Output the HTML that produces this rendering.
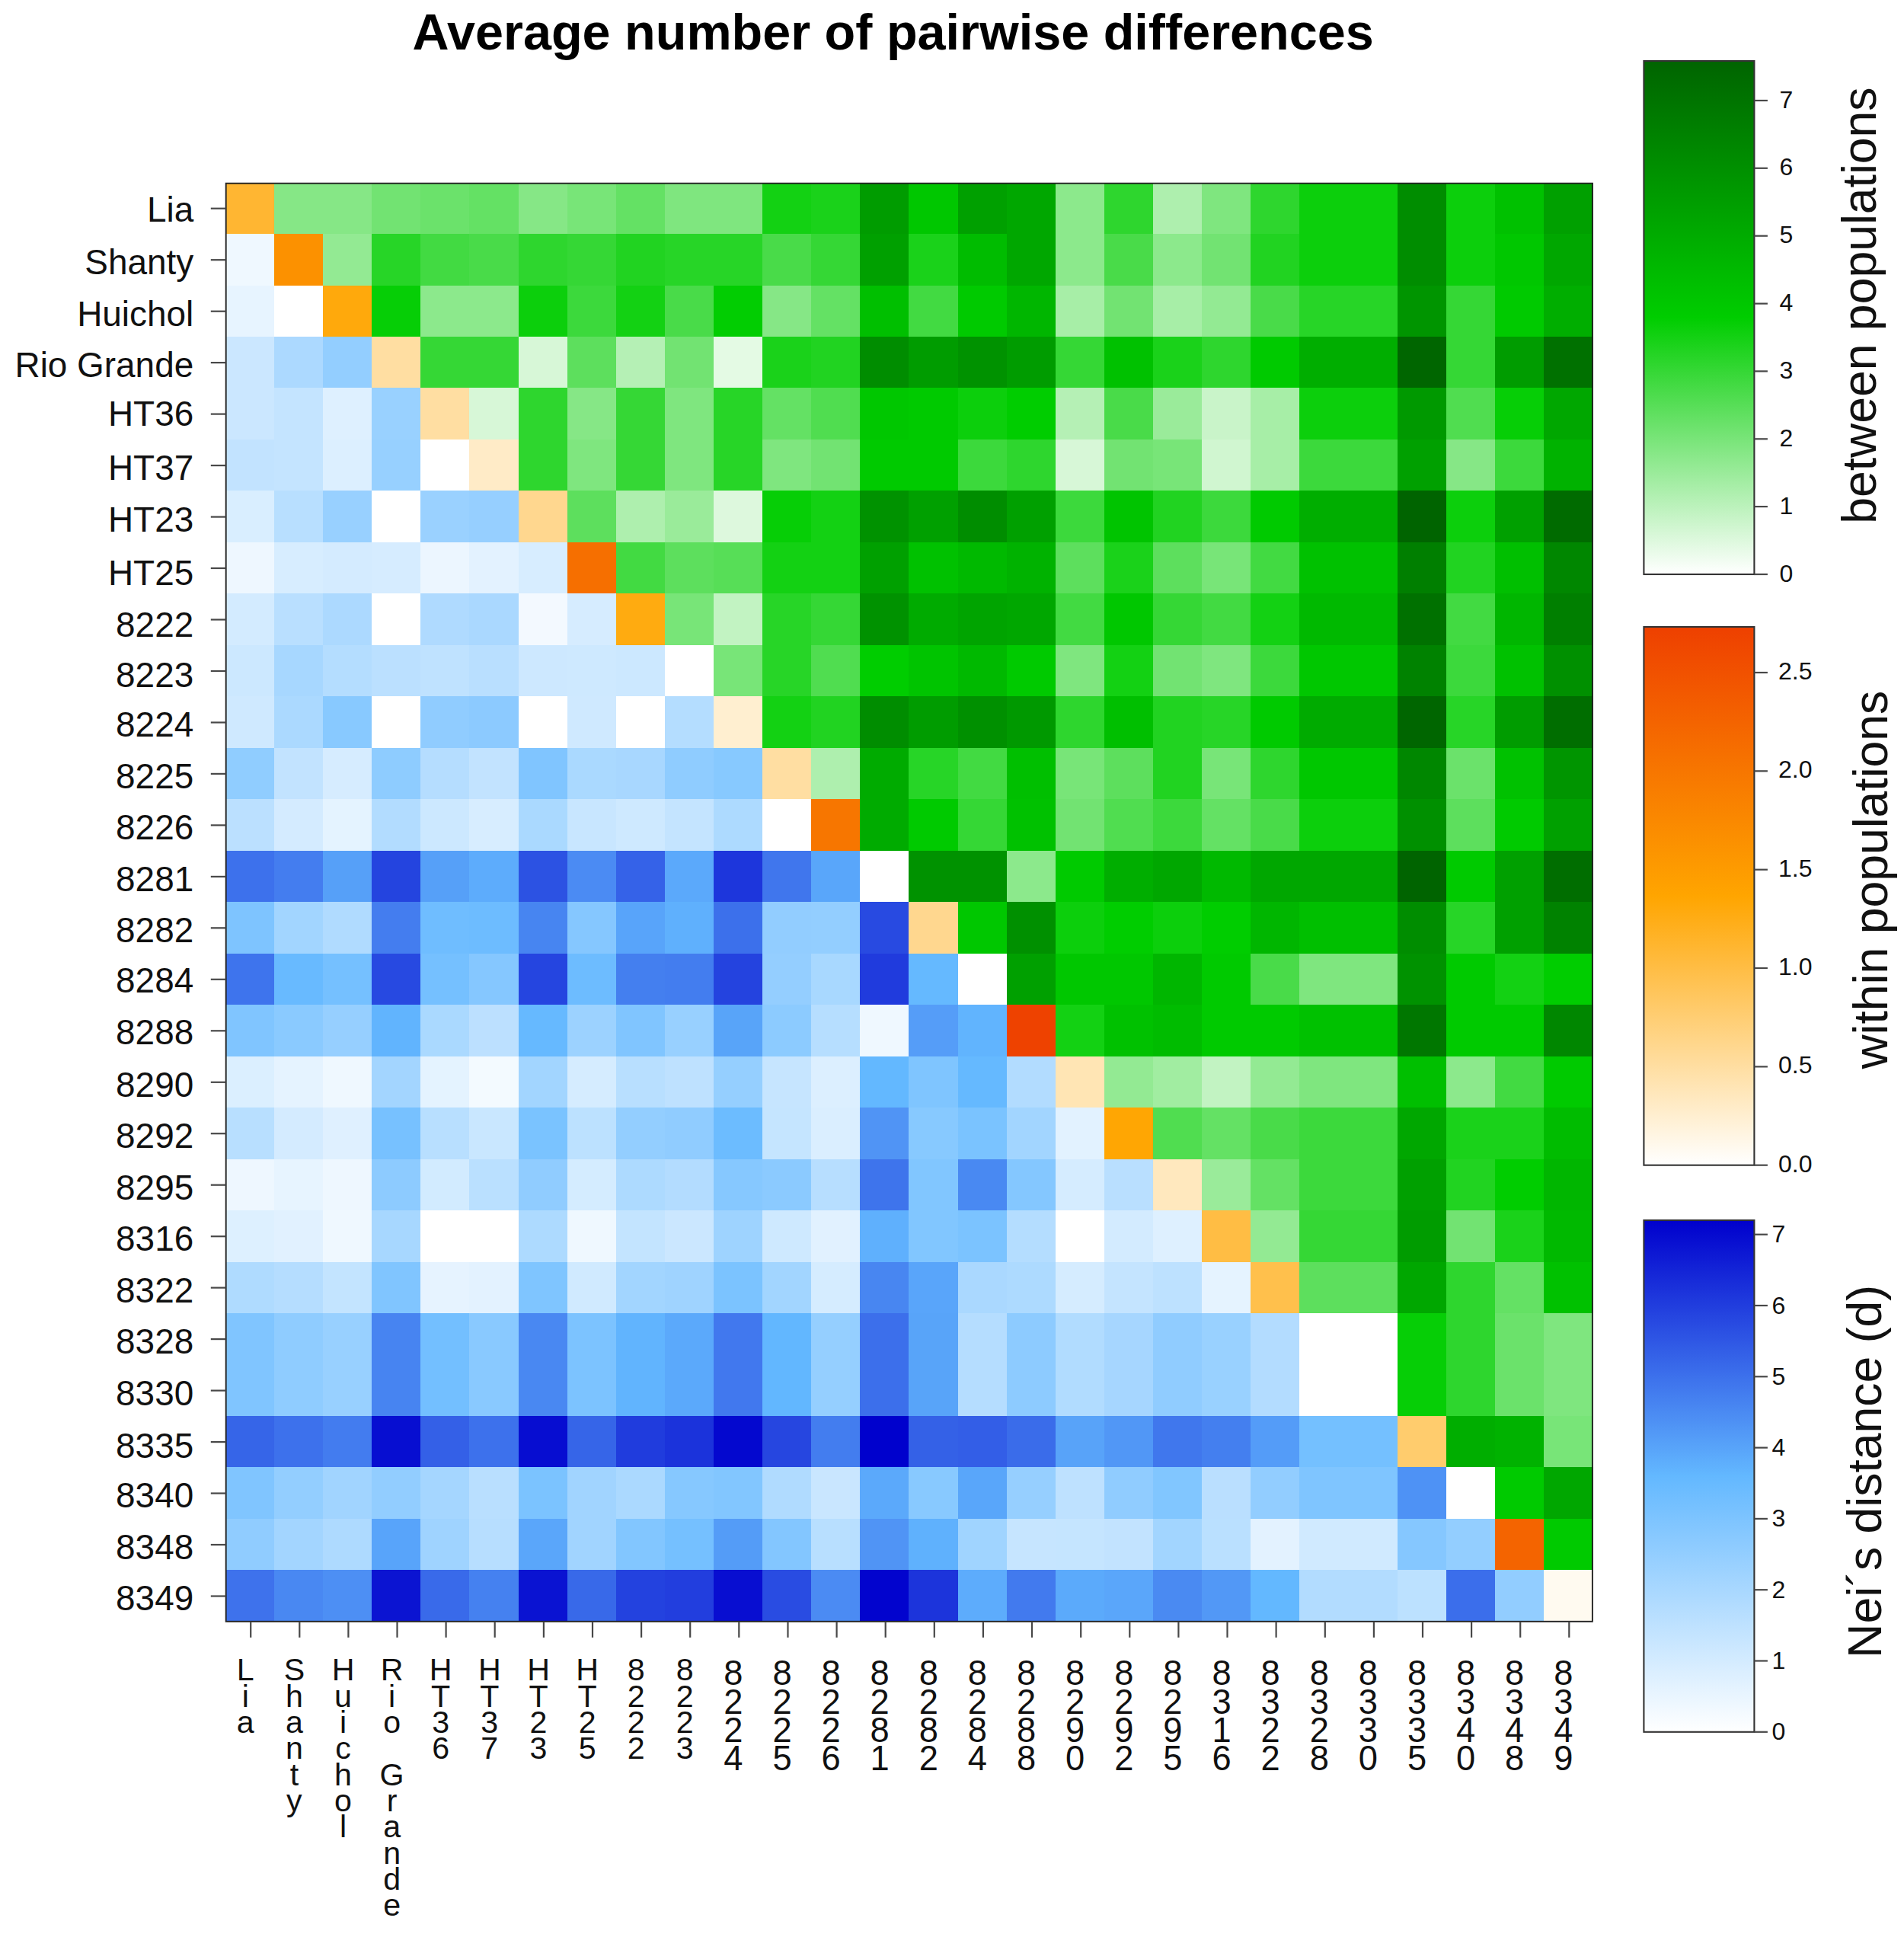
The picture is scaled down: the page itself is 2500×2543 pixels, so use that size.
<!DOCTYPE html>
<html lang="en"><head><meta charset="utf-8"><title>Average number of pairwise differences</title>
<style>html,body{margin:0;padding:0;background:#fff;overflow:hidden}svg{display:block}text{font-family:"Liberation Sans",sans-serif;fill:#111}</style></head><body>
<svg width="2500" height="2543" viewBox="0 0 2500 2543">
<defs>
<linearGradient id="gg" x1="0" y1="1" x2="0" y2="0"><stop offset="0" stop-color="#ffffff"/><stop offset="0.5" stop-color="#00cd00"/><stop offset="1" stop-color="#006400"/></linearGradient>
<linearGradient id="og" x1="0" y1="1" x2="0" y2="0"><stop offset="0" stop-color="#ffffff"/><stop offset="0.5" stop-color="#ffa500"/><stop offset="1" stop-color="#ee4000"/></linearGradient>
<linearGradient id="bg" x1="0" y1="1" x2="0" y2="0"><stop offset="0" stop-color="#ffffff"/><stop offset="0.5" stop-color="#63b8ff"/><stop offset="1" stop-color="#0000cd"/></linearGradient>
</defs>
<rect width="2500" height="2543" fill="#fff"/>
<text x="1172.6" y="65.4" font-size="66.55" font-weight="bold" text-anchor="middle" style="fill:#000">Average number of pairwise differences</text>
<g shape-rendering="crispEdges">
<rect x="295.80" y="239.60" width="64.72" height="68.07" fill="#ffb632"/>
<rect x="359.92" y="239.60" width="64.72" height="68.07" fill="#86e786"/>
<rect x="424.04" y="239.60" width="64.72" height="68.07" fill="#86e786"/>
<rect x="488.15" y="239.60" width="64.72" height="68.07" fill="#72e372"/>
<rect x="552.27" y="239.60" width="64.72" height="68.07" fill="#6be26b"/>
<rect x="616.39" y="239.60" width="64.72" height="68.07" fill="#64e164"/>
<rect x="680.51" y="239.60" width="64.72" height="68.07" fill="#86e786"/>
<rect x="744.62" y="239.60" width="64.72" height="68.07" fill="#78e578"/>
<rect x="808.74" y="239.60" width="64.72" height="68.07" fill="#64e164"/>
<rect x="872.86" y="239.60" width="64.72" height="68.07" fill="#7fe67f"/>
<rect x="936.98" y="239.60" width="64.72" height="68.07" fill="#7fe67f"/>
<rect x="1001.10" y="239.60" width="64.72" height="68.07" fill="#13d113"/>
<rect x="1065.21" y="239.60" width="64.72" height="68.07" fill="#1ad21a"/>
<rect x="1129.33" y="239.60" width="64.72" height="68.07" fill="#009c00"/>
<rect x="1193.45" y="239.60" width="64.72" height="68.07" fill="#00c700"/>
<rect x="1257.57" y="239.60" width="64.72" height="68.07" fill="#00a000"/>
<rect x="1321.69" y="239.60" width="64.72" height="68.07" fill="#00a700"/>
<rect x="1385.80" y="239.60" width="64.72" height="68.07" fill="#8ce98c"/>
<rect x="1449.92" y="239.60" width="64.72" height="68.07" fill="#2ed62e"/>
<rect x="1514.04" y="239.60" width="64.72" height="68.07" fill="#aeefae"/>
<rect x="1578.16" y="239.60" width="64.72" height="68.07" fill="#7fe67f"/>
<rect x="1642.28" y="239.60" width="64.72" height="68.07" fill="#2ed62e"/>
<rect x="1706.39" y="239.60" width="64.72" height="68.07" fill="#0ccf0c"/>
<rect x="1770.51" y="239.60" width="64.72" height="68.07" fill="#0ccf0c"/>
<rect x="1834.63" y="239.60" width="64.72" height="68.07" fill="#008d00"/>
<rect x="1898.75" y="239.60" width="64.72" height="68.07" fill="#0ccf0c"/>
<rect x="1962.86" y="239.60" width="64.72" height="68.07" fill="#00c100"/>
<rect x="2026.98" y="239.60" width="64.72" height="68.07" fill="#00a000"/>
<rect x="295.80" y="307.07" width="64.72" height="68.07" fill="#eff8ff"/>
<rect x="359.92" y="307.07" width="64.72" height="68.07" fill="#fc9100"/>
<rect x="424.04" y="307.07" width="64.72" height="68.07" fill="#93ea93"/>
<rect x="488.15" y="307.07" width="64.72" height="68.07" fill="#27d527"/>
<rect x="552.27" y="307.07" width="64.72" height="68.07" fill="#42da42"/>
<rect x="616.39" y="307.07" width="64.72" height="68.07" fill="#49db49"/>
<rect x="680.51" y="307.07" width="64.72" height="68.07" fill="#2ed62e"/>
<rect x="744.62" y="307.07" width="64.72" height="68.07" fill="#35d735"/>
<rect x="808.74" y="307.07" width="64.72" height="68.07" fill="#21d321"/>
<rect x="872.86" y="307.07" width="64.72" height="68.07" fill="#27d527"/>
<rect x="936.98" y="307.07" width="64.72" height="68.07" fill="#27d527"/>
<rect x="1001.10" y="307.07" width="64.72" height="68.07" fill="#49db49"/>
<rect x="1065.21" y="307.07" width="64.72" height="68.07" fill="#35d735"/>
<rect x="1129.33" y="307.07" width="64.72" height="68.07" fill="#00a000"/>
<rect x="1193.45" y="307.07" width="64.72" height="68.07" fill="#1ad21a"/>
<rect x="1257.57" y="307.07" width="64.72" height="68.07" fill="#00bc00"/>
<rect x="1321.69" y="307.07" width="64.72" height="68.07" fill="#00a700"/>
<rect x="1385.80" y="307.07" width="64.72" height="68.07" fill="#8ce98c"/>
<rect x="1449.92" y="307.07" width="64.72" height="68.07" fill="#49db49"/>
<rect x="1514.04" y="307.07" width="64.72" height="68.07" fill="#8ce98c"/>
<rect x="1578.16" y="307.07" width="64.72" height="68.07" fill="#72e372"/>
<rect x="1642.28" y="307.07" width="64.72" height="68.07" fill="#21d321"/>
<rect x="1706.39" y="307.07" width="64.72" height="68.07" fill="#0ccf0c"/>
<rect x="1770.51" y="307.07" width="64.72" height="68.07" fill="#0ccf0c"/>
<rect x="1834.63" y="307.07" width="64.72" height="68.07" fill="#008d00"/>
<rect x="1898.75" y="307.07" width="64.72" height="68.07" fill="#0ccf0c"/>
<rect x="1962.86" y="307.07" width="64.72" height="68.07" fill="#00c700"/>
<rect x="2026.98" y="307.07" width="64.72" height="68.07" fill="#00a700"/>
<rect x="295.80" y="374.54" width="64.72" height="68.07" fill="#e7f4ff"/>
<rect x="359.92" y="374.54" width="64.72" height="68.07" fill="#ffffff"/>
<rect x="424.04" y="374.54" width="64.72" height="68.07" fill="#ffa90c"/>
<rect x="488.15" y="374.54" width="64.72" height="68.07" fill="#06ce06"/>
<rect x="552.27" y="374.54" width="64.72" height="68.07" fill="#8ce98c"/>
<rect x="616.39" y="374.54" width="64.72" height="68.07" fill="#8ce98c"/>
<rect x="680.51" y="374.54" width="64.72" height="68.07" fill="#0ccf0c"/>
<rect x="744.62" y="374.54" width="64.72" height="68.07" fill="#3cd93c"/>
<rect x="808.74" y="374.54" width="64.72" height="68.07" fill="#13d113"/>
<rect x="872.86" y="374.54" width="64.72" height="68.07" fill="#49db49"/>
<rect x="936.98" y="374.54" width="64.72" height="68.07" fill="#02cd02"/>
<rect x="1001.10" y="374.54" width="64.72" height="68.07" fill="#86e786"/>
<rect x="1065.21" y="374.54" width="64.72" height="68.07" fill="#64e164"/>
<rect x="1129.33" y="374.54" width="64.72" height="68.07" fill="#00bf00"/>
<rect x="1193.45" y="374.54" width="64.72" height="68.07" fill="#42da42"/>
<rect x="1257.57" y="374.54" width="64.72" height="68.07" fill="#00ca00"/>
<rect x="1321.69" y="374.54" width="64.72" height="68.07" fill="#00b600"/>
<rect x="1385.80" y="374.54" width="64.72" height="68.07" fill="#a7eea7"/>
<rect x="1449.92" y="374.54" width="64.72" height="68.07" fill="#72e372"/>
<rect x="1514.04" y="374.54" width="64.72" height="68.07" fill="#a7eea7"/>
<rect x="1578.16" y="374.54" width="64.72" height="68.07" fill="#93ea93"/>
<rect x="1642.28" y="374.54" width="64.72" height="68.07" fill="#49db49"/>
<rect x="1706.39" y="374.54" width="64.72" height="68.07" fill="#27d527"/>
<rect x="1770.51" y="374.54" width="64.72" height="68.07" fill="#27d527"/>
<rect x="1834.63" y="374.54" width="64.72" height="68.07" fill="#009500"/>
<rect x="1898.75" y="374.54" width="64.72" height="68.07" fill="#35d735"/>
<rect x="1962.86" y="374.54" width="64.72" height="68.07" fill="#00ca00"/>
<rect x="2026.98" y="374.54" width="64.72" height="68.07" fill="#00ae00"/>
<rect x="295.80" y="442.01" width="64.72" height="68.07" fill="#cbe7ff"/>
<rect x="359.92" y="442.01" width="64.72" height="68.07" fill="#acd9ff"/>
<rect x="424.04" y="442.01" width="64.72" height="68.07" fill="#93ceff"/>
<rect x="488.15" y="442.01" width="64.72" height="68.07" fill="#ffdea2"/>
<rect x="552.27" y="442.01" width="64.72" height="68.07" fill="#35d735"/>
<rect x="616.39" y="442.01" width="64.72" height="68.07" fill="#35d735"/>
<rect x="680.51" y="442.01" width="64.72" height="68.07" fill="#d7f7d7"/>
<rect x="744.62" y="442.01" width="64.72" height="68.07" fill="#5ddf5d"/>
<rect x="808.74" y="442.01" width="64.72" height="68.07" fill="#b5f0b5"/>
<rect x="872.86" y="442.01" width="64.72" height="68.07" fill="#72e372"/>
<rect x="936.98" y="442.01" width="64.72" height="68.07" fill="#e4fae4"/>
<rect x="1001.10" y="442.01" width="64.72" height="68.07" fill="#1ad21a"/>
<rect x="1065.21" y="442.01" width="64.72" height="68.07" fill="#21d321"/>
<rect x="1129.33" y="442.01" width="64.72" height="68.07" fill="#008d00"/>
<rect x="1193.45" y="442.01" width="64.72" height="68.07" fill="#009c00"/>
<rect x="1257.57" y="442.01" width="64.72" height="68.07" fill="#009200"/>
<rect x="1321.69" y="442.01" width="64.72" height="68.07" fill="#009c00"/>
<rect x="1385.80" y="442.01" width="64.72" height="68.07" fill="#35d735"/>
<rect x="1449.92" y="442.01" width="64.72" height="68.07" fill="#00c100"/>
<rect x="1514.04" y="442.01" width="64.72" height="68.07" fill="#1ad21a"/>
<rect x="1578.16" y="442.01" width="64.72" height="68.07" fill="#2ed62e"/>
<rect x="1642.28" y="442.01" width="64.72" height="68.07" fill="#00ca00"/>
<rect x="1706.39" y="442.01" width="64.72" height="68.07" fill="#00ae00"/>
<rect x="1770.51" y="442.01" width="64.72" height="68.07" fill="#00ae00"/>
<rect x="1834.63" y="442.01" width="64.72" height="68.07" fill="#006600"/>
<rect x="1898.75" y="442.01" width="64.72" height="68.07" fill="#35d735"/>
<rect x="1962.86" y="442.01" width="64.72" height="68.07" fill="#009c00"/>
<rect x="2026.98" y="442.01" width="64.72" height="68.07" fill="#007100"/>
<rect x="295.80" y="509.49" width="64.72" height="68.07" fill="#cbe7ff"/>
<rect x="359.92" y="509.49" width="64.72" height="68.07" fill="#c4e4ff"/>
<rect x="424.04" y="509.49" width="64.72" height="68.07" fill="#def0ff"/>
<rect x="488.15" y="509.49" width="64.72" height="68.07" fill="#99d1ff"/>
<rect x="552.27" y="509.49" width="64.72" height="68.07" fill="#ffdea2"/>
<rect x="616.39" y="509.49" width="64.72" height="68.07" fill="#d7f7d7"/>
<rect x="680.51" y="509.49" width="64.72" height="68.07" fill="#2ed62e"/>
<rect x="744.62" y="509.49" width="64.72" height="68.07" fill="#86e786"/>
<rect x="808.74" y="509.49" width="64.72" height="68.07" fill="#35d735"/>
<rect x="872.86" y="509.49" width="64.72" height="68.07" fill="#7fe67f"/>
<rect x="936.98" y="509.49" width="64.72" height="68.07" fill="#27d527"/>
<rect x="1001.10" y="509.49" width="64.72" height="68.07" fill="#64e164"/>
<rect x="1065.21" y="509.49" width="64.72" height="68.07" fill="#50dd50"/>
<rect x="1129.33" y="509.49" width="64.72" height="68.07" fill="#00c700"/>
<rect x="1193.45" y="509.49" width="64.72" height="68.07" fill="#00ca00"/>
<rect x="1257.57" y="509.49" width="64.72" height="68.07" fill="#0ccf0c"/>
<rect x="1321.69" y="509.49" width="64.72" height="68.07" fill="#00cd00"/>
<rect x="1385.80" y="509.49" width="64.72" height="68.07" fill="#b5f0b5"/>
<rect x="1449.92" y="509.49" width="64.72" height="68.07" fill="#49db49"/>
<rect x="1514.04" y="509.49" width="64.72" height="68.07" fill="#9aeb9a"/>
<rect x="1578.16" y="509.49" width="64.72" height="68.07" fill="#c9f4c9"/>
<rect x="1642.28" y="509.49" width="64.72" height="68.07" fill="#a7eea7"/>
<rect x="1706.39" y="509.49" width="64.72" height="68.07" fill="#0ccf0c"/>
<rect x="1770.51" y="509.49" width="64.72" height="68.07" fill="#0ccf0c"/>
<rect x="1834.63" y="509.49" width="64.72" height="68.07" fill="#009900"/>
<rect x="1898.75" y="509.49" width="64.72" height="68.07" fill="#50dd50"/>
<rect x="1962.86" y="509.49" width="64.72" height="68.07" fill="#06ce06"/>
<rect x="2026.98" y="509.49" width="64.72" height="68.07" fill="#00a700"/>
<rect x="295.80" y="576.96" width="64.72" height="68.07" fill="#c2e3ff"/>
<rect x="359.92" y="576.96" width="64.72" height="68.07" fill="#c4e4ff"/>
<rect x="424.04" y="576.96" width="64.72" height="68.07" fill="#dcefff"/>
<rect x="488.15" y="576.96" width="64.72" height="68.07" fill="#97d0ff"/>
<rect x="552.27" y="576.96" width="64.72" height="68.07" fill="#ffffff"/>
<rect x="616.39" y="576.96" width="64.72" height="68.07" fill="#ffebc7"/>
<rect x="680.51" y="576.96" width="64.72" height="68.07" fill="#2ed62e"/>
<rect x="744.62" y="576.96" width="64.72" height="68.07" fill="#7fe67f"/>
<rect x="808.74" y="576.96" width="64.72" height="68.07" fill="#35d735"/>
<rect x="872.86" y="576.96" width="64.72" height="68.07" fill="#7fe67f"/>
<rect x="936.98" y="576.96" width="64.72" height="68.07" fill="#27d527"/>
<rect x="1001.10" y="576.96" width="64.72" height="68.07" fill="#7fe67f"/>
<rect x="1065.21" y="576.96" width="64.72" height="68.07" fill="#72e372"/>
<rect x="1129.33" y="576.96" width="64.72" height="68.07" fill="#00ca00"/>
<rect x="1193.45" y="576.96" width="64.72" height="68.07" fill="#00ca00"/>
<rect x="1257.57" y="576.96" width="64.72" height="68.07" fill="#3cd93c"/>
<rect x="1321.69" y="576.96" width="64.72" height="68.07" fill="#2ed62e"/>
<rect x="1385.80" y="576.96" width="64.72" height="68.07" fill="#d7f7d7"/>
<rect x="1449.92" y="576.96" width="64.72" height="68.07" fill="#72e372"/>
<rect x="1514.04" y="576.96" width="64.72" height="68.07" fill="#78e578"/>
<rect x="1578.16" y="576.96" width="64.72" height="68.07" fill="#d0f6d0"/>
<rect x="1642.28" y="576.96" width="64.72" height="68.07" fill="#a7eea7"/>
<rect x="1706.39" y="576.96" width="64.72" height="68.07" fill="#3cd93c"/>
<rect x="1770.51" y="576.96" width="64.72" height="68.07" fill="#3cd93c"/>
<rect x="1834.63" y="576.96" width="64.72" height="68.07" fill="#00a000"/>
<rect x="1898.75" y="576.96" width="64.72" height="68.07" fill="#86e786"/>
<rect x="1962.86" y="576.96" width="64.72" height="68.07" fill="#3cd93c"/>
<rect x="2026.98" y="576.96" width="64.72" height="68.07" fill="#00b200"/>
<rect x="295.80" y="644.43" width="64.72" height="68.07" fill="#d9eeff"/>
<rect x="359.92" y="644.43" width="64.72" height="68.07" fill="#b8dfff"/>
<rect x="424.04" y="644.43" width="64.72" height="68.07" fill="#98d0ff"/>
<rect x="488.15" y="644.43" width="64.72" height="68.07" fill="#ffffff"/>
<rect x="552.27" y="644.43" width="64.72" height="68.07" fill="#9ad1ff"/>
<rect x="616.39" y="644.43" width="64.72" height="68.07" fill="#96cfff"/>
<rect x="680.51" y="644.43" width="64.72" height="68.07" fill="#ffd78f"/>
<rect x="744.62" y="644.43" width="64.72" height="68.07" fill="#5ddf5d"/>
<rect x="808.74" y="644.43" width="64.72" height="68.07" fill="#aeefae"/>
<rect x="872.86" y="644.43" width="64.72" height="68.07" fill="#9aeb9a"/>
<rect x="936.98" y="644.43" width="64.72" height="68.07" fill="#ddf8dd"/>
<rect x="1001.10" y="644.43" width="64.72" height="68.07" fill="#06ce06"/>
<rect x="1065.21" y="644.43" width="64.72" height="68.07" fill="#13d113"/>
<rect x="1129.33" y="644.43" width="64.72" height="68.07" fill="#009200"/>
<rect x="1193.45" y="644.43" width="64.72" height="68.07" fill="#00a000"/>
<rect x="1257.57" y="644.43" width="64.72" height="68.07" fill="#008d00"/>
<rect x="1321.69" y="644.43" width="64.72" height="68.07" fill="#00a000"/>
<rect x="1385.80" y="644.43" width="64.72" height="68.07" fill="#3cd93c"/>
<rect x="1449.92" y="644.43" width="64.72" height="68.07" fill="#00c400"/>
<rect x="1514.04" y="644.43" width="64.72" height="68.07" fill="#21d321"/>
<rect x="1578.16" y="644.43" width="64.72" height="68.07" fill="#3cd93c"/>
<rect x="1642.28" y="644.43" width="64.72" height="68.07" fill="#00ca00"/>
<rect x="1706.39" y="644.43" width="64.72" height="68.07" fill="#00ae00"/>
<rect x="1770.51" y="644.43" width="64.72" height="68.07" fill="#00ae00"/>
<rect x="1834.63" y="644.43" width="64.72" height="68.07" fill="#006400"/>
<rect x="1898.75" y="644.43" width="64.72" height="68.07" fill="#0ccf0c"/>
<rect x="1962.86" y="644.43" width="64.72" height="68.07" fill="#00a000"/>
<rect x="2026.98" y="644.43" width="64.72" height="68.07" fill="#006b00"/>
<rect x="295.80" y="711.90" width="64.72" height="68.07" fill="#eef7ff"/>
<rect x="359.92" y="711.90" width="64.72" height="68.07" fill="#d7edff"/>
<rect x="424.04" y="711.90" width="64.72" height="68.07" fill="#d4ebff"/>
<rect x="488.15" y="711.90" width="64.72" height="68.07" fill="#d6ecff"/>
<rect x="552.27" y="711.90" width="64.72" height="68.07" fill="#ecf6ff"/>
<rect x="616.39" y="711.90" width="64.72" height="68.07" fill="#e3f2ff"/>
<rect x="680.51" y="711.90" width="64.72" height="68.07" fill="#d7edff"/>
<rect x="744.62" y="711.90" width="64.72" height="68.07" fill="#f66f00"/>
<rect x="808.74" y="711.90" width="64.72" height="68.07" fill="#42da42"/>
<rect x="872.86" y="711.90" width="64.72" height="68.07" fill="#5ddf5d"/>
<rect x="936.98" y="711.90" width="64.72" height="68.07" fill="#57de57"/>
<rect x="1001.10" y="711.90" width="64.72" height="68.07" fill="#13d113"/>
<rect x="1065.21" y="711.90" width="64.72" height="68.07" fill="#13d113"/>
<rect x="1129.33" y="711.90" width="64.72" height="68.07" fill="#00a000"/>
<rect x="1193.45" y="711.90" width="64.72" height="68.07" fill="#00c100"/>
<rect x="1257.57" y="711.90" width="64.72" height="68.07" fill="#00b900"/>
<rect x="1321.69" y="711.90" width="64.72" height="68.07" fill="#00b200"/>
<rect x="1385.80" y="711.90" width="64.72" height="68.07" fill="#5ddf5d"/>
<rect x="1449.92" y="711.90" width="64.72" height="68.07" fill="#1ad21a"/>
<rect x="1514.04" y="711.90" width="64.72" height="68.07" fill="#5ddf5d"/>
<rect x="1578.16" y="711.90" width="64.72" height="68.07" fill="#78e578"/>
<rect x="1642.28" y="711.90" width="64.72" height="68.07" fill="#42da42"/>
<rect x="1706.39" y="711.90" width="64.72" height="68.07" fill="#00c100"/>
<rect x="1770.51" y="711.90" width="64.72" height="68.07" fill="#00c100"/>
<rect x="1834.63" y="711.90" width="64.72" height="68.07" fill="#007f00"/>
<rect x="1898.75" y="711.90" width="64.72" height="68.07" fill="#21d321"/>
<rect x="1962.86" y="711.90" width="64.72" height="68.07" fill="#00bf00"/>
<rect x="2026.98" y="711.90" width="64.72" height="68.07" fill="#008700"/>
<rect x="295.80" y="779.37" width="64.72" height="68.07" fill="#d3ebff"/>
<rect x="359.92" y="779.37" width="64.72" height="68.07" fill="#b9dfff"/>
<rect x="424.04" y="779.37" width="64.72" height="68.07" fill="#acd9ff"/>
<rect x="488.15" y="779.37" width="64.72" height="68.07" fill="#ffffff"/>
<rect x="552.27" y="779.37" width="64.72" height="68.07" fill="#afdaff"/>
<rect x="616.39" y="779.37" width="64.72" height="68.07" fill="#aad8ff"/>
<rect x="680.51" y="779.37" width="64.72" height="68.07" fill="#f3f9ff"/>
<rect x="744.62" y="779.37" width="64.72" height="68.07" fill="#d6ecff"/>
<rect x="808.74" y="779.37" width="64.72" height="68.07" fill="#ffab10"/>
<rect x="872.86" y="779.37" width="64.72" height="68.07" fill="#78e578"/>
<rect x="936.98" y="779.37" width="64.72" height="68.07" fill="#c2f3c2"/>
<rect x="1001.10" y="779.37" width="64.72" height="68.07" fill="#27d527"/>
<rect x="1065.21" y="779.37" width="64.72" height="68.07" fill="#35d735"/>
<rect x="1129.33" y="779.37" width="64.72" height="68.07" fill="#009200"/>
<rect x="1193.45" y="779.37" width="64.72" height="68.07" fill="#00ab00"/>
<rect x="1257.57" y="779.37" width="64.72" height="68.07" fill="#00a400"/>
<rect x="1321.69" y="779.37" width="64.72" height="68.07" fill="#00a700"/>
<rect x="1385.80" y="779.37" width="64.72" height="68.07" fill="#42da42"/>
<rect x="1449.92" y="779.37" width="64.72" height="68.07" fill="#00c700"/>
<rect x="1514.04" y="779.37" width="64.72" height="68.07" fill="#35d735"/>
<rect x="1578.16" y="779.37" width="64.72" height="68.07" fill="#42da42"/>
<rect x="1642.28" y="779.37" width="64.72" height="68.07" fill="#13d113"/>
<rect x="1706.39" y="779.37" width="64.72" height="68.07" fill="#00b900"/>
<rect x="1770.51" y="779.37" width="64.72" height="68.07" fill="#00b900"/>
<rect x="1834.63" y="779.37" width="64.72" height="68.07" fill="#007100"/>
<rect x="1898.75" y="779.37" width="64.72" height="68.07" fill="#42da42"/>
<rect x="1962.86" y="779.37" width="64.72" height="68.07" fill="#00b600"/>
<rect x="2026.98" y="779.37" width="64.72" height="68.07" fill="#007f00"/>
<rect x="295.80" y="846.84" width="64.72" height="68.07" fill="#cce8ff"/>
<rect x="359.92" y="846.84" width="64.72" height="68.07" fill="#a7d7ff"/>
<rect x="424.04" y="846.84" width="64.72" height="68.07" fill="#b4ddff"/>
<rect x="488.15" y="846.84" width="64.72" height="68.07" fill="#bbe0ff"/>
<rect x="552.27" y="846.84" width="64.72" height="68.07" fill="#bfe2ff"/>
<rect x="616.39" y="846.84" width="64.72" height="68.07" fill="#b9dfff"/>
<rect x="680.51" y="846.84" width="64.72" height="68.07" fill="#cde8ff"/>
<rect x="744.62" y="846.84" width="64.72" height="68.07" fill="#cee9ff"/>
<rect x="808.74" y="846.84" width="64.72" height="68.07" fill="#cce8ff"/>
<rect x="872.86" y="846.84" width="64.72" height="68.07" fill="#ffffff"/>
<rect x="936.98" y="846.84" width="64.72" height="68.07" fill="#78e578"/>
<rect x="1001.10" y="846.84" width="64.72" height="68.07" fill="#27d527"/>
<rect x="1065.21" y="846.84" width="64.72" height="68.07" fill="#50dd50"/>
<rect x="1129.33" y="846.84" width="64.72" height="68.07" fill="#00cd00"/>
<rect x="1193.45" y="846.84" width="64.72" height="68.07" fill="#00c400"/>
<rect x="1257.57" y="846.84" width="64.72" height="68.07" fill="#00b900"/>
<rect x="1321.69" y="846.84" width="64.72" height="68.07" fill="#00ca00"/>
<rect x="1385.80" y="846.84" width="64.72" height="68.07" fill="#7fe67f"/>
<rect x="1449.92" y="846.84" width="64.72" height="68.07" fill="#13d113"/>
<rect x="1514.04" y="846.84" width="64.72" height="68.07" fill="#72e372"/>
<rect x="1578.16" y="846.84" width="64.72" height="68.07" fill="#7fe67f"/>
<rect x="1642.28" y="846.84" width="64.72" height="68.07" fill="#3cd93c"/>
<rect x="1706.39" y="846.84" width="64.72" height="68.07" fill="#00c700"/>
<rect x="1770.51" y="846.84" width="64.72" height="68.07" fill="#00c700"/>
<rect x="1834.63" y="846.84" width="64.72" height="68.07" fill="#008200"/>
<rect x="1898.75" y="846.84" width="64.72" height="68.07" fill="#3cd93c"/>
<rect x="1962.86" y="846.84" width="64.72" height="68.07" fill="#00c100"/>
<rect x="2026.98" y="846.84" width="64.72" height="68.07" fill="#009000"/>
<rect x="295.80" y="914.31" width="64.72" height="68.07" fill="#cfe9ff"/>
<rect x="359.92" y="914.31" width="64.72" height="68.07" fill="#abd9ff"/>
<rect x="424.04" y="914.31" width="64.72" height="68.07" fill="#88c9ff"/>
<rect x="488.15" y="914.31" width="64.72" height="68.07" fill="#ffffff"/>
<rect x="552.27" y="914.31" width="64.72" height="68.07" fill="#90ccff"/>
<rect x="616.39" y="914.31" width="64.72" height="68.07" fill="#8ccaff"/>
<rect x="680.51" y="914.31" width="64.72" height="68.07" fill="#ffffff"/>
<rect x="744.62" y="914.31" width="64.72" height="68.07" fill="#cfe9ff"/>
<rect x="808.74" y="914.31" width="64.72" height="68.07" fill="#ffffff"/>
<rect x="872.86" y="914.31" width="64.72" height="68.07" fill="#b4ddff"/>
<rect x="936.98" y="914.31" width="64.72" height="68.07" fill="#ffefd0"/>
<rect x="1001.10" y="914.31" width="64.72" height="68.07" fill="#13d113"/>
<rect x="1065.21" y="914.31" width="64.72" height="68.07" fill="#21d321"/>
<rect x="1129.33" y="914.31" width="64.72" height="68.07" fill="#008d00"/>
<rect x="1193.45" y="914.31" width="64.72" height="68.07" fill="#009c00"/>
<rect x="1257.57" y="914.31" width="64.72" height="68.07" fill="#009000"/>
<rect x="1321.69" y="914.31" width="64.72" height="68.07" fill="#009900"/>
<rect x="1385.80" y="914.31" width="64.72" height="68.07" fill="#2ed62e"/>
<rect x="1449.92" y="914.31" width="64.72" height="68.07" fill="#00bf00"/>
<rect x="1514.04" y="914.31" width="64.72" height="68.07" fill="#21d321"/>
<rect x="1578.16" y="914.31" width="64.72" height="68.07" fill="#27d527"/>
<rect x="1642.28" y="914.31" width="64.72" height="68.07" fill="#00ca00"/>
<rect x="1706.39" y="914.31" width="64.72" height="68.07" fill="#00ab00"/>
<rect x="1770.51" y="914.31" width="64.72" height="68.07" fill="#00ab00"/>
<rect x="1834.63" y="914.31" width="64.72" height="68.07" fill="#006600"/>
<rect x="1898.75" y="914.31" width="64.72" height="68.07" fill="#27d527"/>
<rect x="1962.86" y="914.31" width="64.72" height="68.07" fill="#009c00"/>
<rect x="2026.98" y="914.31" width="64.72" height="68.07" fill="#006e00"/>
<rect x="295.80" y="981.79" width="64.72" height="68.07" fill="#90cdff"/>
<rect x="359.92" y="981.79" width="64.72" height="68.07" fill="#c2e3ff"/>
<rect x="424.04" y="981.79" width="64.72" height="68.07" fill="#d6ecff"/>
<rect x="488.15" y="981.79" width="64.72" height="68.07" fill="#8eccff"/>
<rect x="552.27" y="981.79" width="64.72" height="68.07" fill="#b5ddff"/>
<rect x="616.39" y="981.79" width="64.72" height="68.07" fill="#c2e3ff"/>
<rect x="680.51" y="981.79" width="64.72" height="68.07" fill="#80c5ff"/>
<rect x="744.62" y="981.79" width="64.72" height="68.07" fill="#aad9ff"/>
<rect x="808.74" y="981.79" width="64.72" height="68.07" fill="#a8d7ff"/>
<rect x="872.86" y="981.79" width="64.72" height="68.07" fill="#8fccff"/>
<rect x="936.98" y="981.79" width="64.72" height="68.07" fill="#87c9ff"/>
<rect x="1001.10" y="981.79" width="64.72" height="68.07" fill="#ffdea2"/>
<rect x="1065.21" y="981.79" width="64.72" height="68.07" fill="#aeefae"/>
<rect x="1129.33" y="981.79" width="64.72" height="68.07" fill="#00ab00"/>
<rect x="1193.45" y="981.79" width="64.72" height="68.07" fill="#27d527"/>
<rect x="1257.57" y="981.79" width="64.72" height="68.07" fill="#42da42"/>
<rect x="1321.69" y="981.79" width="64.72" height="68.07" fill="#00bf00"/>
<rect x="1385.80" y="981.79" width="64.72" height="68.07" fill="#78e578"/>
<rect x="1449.92" y="981.79" width="64.72" height="68.07" fill="#5ddf5d"/>
<rect x="1514.04" y="981.79" width="64.72" height="68.07" fill="#21d321"/>
<rect x="1578.16" y="981.79" width="64.72" height="68.07" fill="#78e578"/>
<rect x="1642.28" y="981.79" width="64.72" height="68.07" fill="#2ed62e"/>
<rect x="1706.39" y="981.79" width="64.72" height="68.07" fill="#00c700"/>
<rect x="1770.51" y="981.79" width="64.72" height="68.07" fill="#00c700"/>
<rect x="1834.63" y="981.79" width="64.72" height="68.07" fill="#008700"/>
<rect x="1898.75" y="981.79" width="64.72" height="68.07" fill="#6be26b"/>
<rect x="1962.86" y="981.79" width="64.72" height="68.07" fill="#00c100"/>
<rect x="2026.98" y="981.79" width="64.72" height="68.07" fill="#009500"/>
<rect x="295.80" y="1049.26" width="64.72" height="68.07" fill="#bbe0ff"/>
<rect x="359.92" y="1049.26" width="64.72" height="68.07" fill="#d4ebff"/>
<rect x="424.04" y="1049.26" width="64.72" height="68.07" fill="#e4f3ff"/>
<rect x="488.15" y="1049.26" width="64.72" height="68.07" fill="#b2dcff"/>
<rect x="552.27" y="1049.26" width="64.72" height="68.07" fill="#cce8ff"/>
<rect x="616.39" y="1049.26" width="64.72" height="68.07" fill="#d7edff"/>
<rect x="680.51" y="1049.26" width="64.72" height="68.07" fill="#aad9ff"/>
<rect x="744.62" y="1049.26" width="64.72" height="68.07" fill="#c8e6ff"/>
<rect x="808.74" y="1049.26" width="64.72" height="68.07" fill="#cee9ff"/>
<rect x="872.86" y="1049.26" width="64.72" height="68.07" fill="#c4e4ff"/>
<rect x="936.98" y="1049.26" width="64.72" height="68.07" fill="#addaff"/>
<rect x="1001.10" y="1049.26" width="64.72" height="68.07" fill="#ffffff"/>
<rect x="1065.21" y="1049.26" width="64.72" height="68.07" fill="#f77600"/>
<rect x="1129.33" y="1049.26" width="64.72" height="68.07" fill="#00ab00"/>
<rect x="1193.45" y="1049.26" width="64.72" height="68.07" fill="#00ca00"/>
<rect x="1257.57" y="1049.26" width="64.72" height="68.07" fill="#35d735"/>
<rect x="1321.69" y="1049.26" width="64.72" height="68.07" fill="#00c100"/>
<rect x="1385.80" y="1049.26" width="64.72" height="68.07" fill="#72e372"/>
<rect x="1449.92" y="1049.26" width="64.72" height="68.07" fill="#50dd50"/>
<rect x="1514.04" y="1049.26" width="64.72" height="68.07" fill="#3cd93c"/>
<rect x="1578.16" y="1049.26" width="64.72" height="68.07" fill="#64e164"/>
<rect x="1642.28" y="1049.26" width="64.72" height="68.07" fill="#49db49"/>
<rect x="1706.39" y="1049.26" width="64.72" height="68.07" fill="#0ccf0c"/>
<rect x="1770.51" y="1049.26" width="64.72" height="68.07" fill="#0ccf0c"/>
<rect x="1834.63" y="1049.26" width="64.72" height="68.07" fill="#009000"/>
<rect x="1898.75" y="1049.26" width="64.72" height="68.07" fill="#5ddf5d"/>
<rect x="1962.86" y="1049.26" width="64.72" height="68.07" fill="#00ca00"/>
<rect x="2026.98" y="1049.26" width="64.72" height="68.07" fill="#00a000"/>
<rect x="295.80" y="1116.73" width="64.72" height="68.07" fill="#3d71ec"/>
<rect x="359.92" y="1116.73" width="64.72" height="68.07" fill="#447def"/>
<rect x="424.04" y="1116.73" width="64.72" height="68.07" fill="#56a0f8"/>
<rect x="488.15" y="1116.73" width="64.72" height="68.07" fill="#2444df"/>
<rect x="552.27" y="1116.73" width="64.72" height="68.07" fill="#56a0f8"/>
<rect x="616.39" y="1116.73" width="64.72" height="68.07" fill="#5dacfc"/>
<rect x="680.51" y="1116.73" width="64.72" height="68.07" fill="#2c52e3"/>
<rect x="744.62" y="1116.73" width="64.72" height="68.07" fill="#4b8bf3"/>
<rect x="808.74" y="1116.73" width="64.72" height="68.07" fill="#3562e8"/>
<rect x="872.86" y="1116.73" width="64.72" height="68.07" fill="#5ba9fb"/>
<rect x="936.98" y="1116.73" width="64.72" height="68.07" fill="#1d36dc"/>
<rect x="1001.10" y="1116.73" width="64.72" height="68.07" fill="#4076ed"/>
<rect x="1065.21" y="1116.73" width="64.72" height="68.07" fill="#59a6fa"/>
<rect x="1129.33" y="1116.73" width="64.72" height="68.07" fill="#ffffff"/>
<rect x="1193.45" y="1116.73" width="64.72" height="68.07" fill="#009200"/>
<rect x="1257.57" y="1116.73" width="64.72" height="68.07" fill="#009200"/>
<rect x="1321.69" y="1116.73" width="64.72" height="68.07" fill="#8ce98c"/>
<rect x="1385.80" y="1116.73" width="64.72" height="68.07" fill="#00ca00"/>
<rect x="1449.92" y="1116.73" width="64.72" height="68.07" fill="#00ae00"/>
<rect x="1514.04" y="1116.73" width="64.72" height="68.07" fill="#00a700"/>
<rect x="1578.16" y="1116.73" width="64.72" height="68.07" fill="#00b900"/>
<rect x="1642.28" y="1116.73" width="64.72" height="68.07" fill="#00a700"/>
<rect x="1706.39" y="1116.73" width="64.72" height="68.07" fill="#00a700"/>
<rect x="1770.51" y="1116.73" width="64.72" height="68.07" fill="#00a700"/>
<rect x="1834.63" y="1116.73" width="64.72" height="68.07" fill="#006400"/>
<rect x="1898.75" y="1116.73" width="64.72" height="68.07" fill="#00ca00"/>
<rect x="1962.86" y="1116.73" width="64.72" height="68.07" fill="#00a000"/>
<rect x="2026.98" y="1116.73" width="64.72" height="68.07" fill="#006e00"/>
<rect x="295.80" y="1184.20" width="64.72" height="68.07" fill="#7ec4ff"/>
<rect x="359.92" y="1184.20" width="64.72" height="68.07" fill="#a2d5ff"/>
<rect x="424.04" y="1184.20" width="64.72" height="68.07" fill="#b0dbff"/>
<rect x="488.15" y="1184.20" width="64.72" height="68.07" fill="#447def"/>
<rect x="552.27" y="1184.20" width="64.72" height="68.07" fill="#6fbdff"/>
<rect x="616.39" y="1184.20" width="64.72" height="68.07" fill="#6dbcff"/>
<rect x="680.51" y="1184.20" width="64.72" height="68.07" fill="#4785f1"/>
<rect x="744.62" y="1184.20" width="64.72" height="68.07" fill="#85c7ff"/>
<rect x="808.74" y="1184.20" width="64.72" height="68.07" fill="#58a4fa"/>
<rect x="872.86" y="1184.20" width="64.72" height="68.07" fill="#5fb0fd"/>
<rect x="936.98" y="1184.20" width="64.72" height="68.07" fill="#3c70eb"/>
<rect x="1001.10" y="1184.20" width="64.72" height="68.07" fill="#92cdff"/>
<rect x="1065.21" y="1184.20" width="64.72" height="68.07" fill="#93ceff"/>
<rect x="1129.33" y="1184.20" width="64.72" height="68.07" fill="#284ae1"/>
<rect x="1193.45" y="1184.20" width="64.72" height="68.07" fill="#ffd78f"/>
<rect x="1257.57" y="1184.20" width="64.72" height="68.07" fill="#00c700"/>
<rect x="1321.69" y="1184.20" width="64.72" height="68.07" fill="#009000"/>
<rect x="1385.80" y="1184.20" width="64.72" height="68.07" fill="#0ccf0c"/>
<rect x="1449.92" y="1184.20" width="64.72" height="68.07" fill="#00cd00"/>
<rect x="1514.04" y="1184.20" width="64.72" height="68.07" fill="#0ccf0c"/>
<rect x="1578.16" y="1184.20" width="64.72" height="68.07" fill="#00cd00"/>
<rect x="1642.28" y="1184.20" width="64.72" height="68.07" fill="#00b600"/>
<rect x="1706.39" y="1184.20" width="64.72" height="68.07" fill="#00bf00"/>
<rect x="1770.51" y="1184.20" width="64.72" height="68.07" fill="#00bf00"/>
<rect x="1834.63" y="1184.20" width="64.72" height="68.07" fill="#008d00"/>
<rect x="1898.75" y="1184.20" width="64.72" height="68.07" fill="#27d527"/>
<rect x="1962.86" y="1184.20" width="64.72" height="68.07" fill="#00a000"/>
<rect x="2026.98" y="1184.20" width="64.72" height="68.07" fill="#008200"/>
<rect x="295.80" y="1251.67" width="64.72" height="68.07" fill="#3e74ed"/>
<rect x="359.92" y="1251.67" width="64.72" height="68.07" fill="#68baff"/>
<rect x="424.04" y="1251.67" width="64.72" height="68.07" fill="#75c0ff"/>
<rect x="488.15" y="1251.67" width="64.72" height="68.07" fill="#2749e1"/>
<rect x="552.27" y="1251.67" width="64.72" height="68.07" fill="#75c0ff"/>
<rect x="616.39" y="1251.67" width="64.72" height="68.07" fill="#85c7ff"/>
<rect x="680.51" y="1251.67" width="64.72" height="68.07" fill="#2545e0"/>
<rect x="744.62" y="1251.67" width="64.72" height="68.07" fill="#6dbcff"/>
<rect x="808.74" y="1251.67" width="64.72" height="68.07" fill="#447fef"/>
<rect x="872.86" y="1251.67" width="64.72" height="68.07" fill="#437def"/>
<rect x="936.98" y="1251.67" width="64.72" height="68.07" fill="#2443df"/>
<rect x="1001.10" y="1251.67" width="64.72" height="68.07" fill="#94ceff"/>
<rect x="1065.21" y="1251.67" width="64.72" height="68.07" fill="#a8d8ff"/>
<rect x="1129.33" y="1251.67" width="64.72" height="68.07" fill="#203bdd"/>
<rect x="1193.45" y="1251.67" width="64.72" height="68.07" fill="#65b9ff"/>
<rect x="1257.57" y="1251.67" width="64.72" height="68.07" fill="#ffffff"/>
<rect x="1321.69" y="1251.67" width="64.72" height="68.07" fill="#00a000"/>
<rect x="1385.80" y="1251.67" width="64.72" height="68.07" fill="#00c700"/>
<rect x="1449.92" y="1251.67" width="64.72" height="68.07" fill="#00c700"/>
<rect x="1514.04" y="1251.67" width="64.72" height="68.07" fill="#00b600"/>
<rect x="1578.16" y="1251.67" width="64.72" height="68.07" fill="#00ca00"/>
<rect x="1642.28" y="1251.67" width="64.72" height="68.07" fill="#49db49"/>
<rect x="1706.39" y="1251.67" width="64.72" height="68.07" fill="#7fe67f"/>
<rect x="1770.51" y="1251.67" width="64.72" height="68.07" fill="#7fe67f"/>
<rect x="1834.63" y="1251.67" width="64.72" height="68.07" fill="#009200"/>
<rect x="1898.75" y="1251.67" width="64.72" height="68.07" fill="#00ca00"/>
<rect x="1962.86" y="1251.67" width="64.72" height="68.07" fill="#13d113"/>
<rect x="2026.98" y="1251.67" width="64.72" height="68.07" fill="#00cd00"/>
<rect x="295.80" y="1319.14" width="64.72" height="68.07" fill="#80c5ff"/>
<rect x="359.92" y="1319.14" width="64.72" height="68.07" fill="#8acaff"/>
<rect x="424.04" y="1319.14" width="64.72" height="68.07" fill="#96cfff"/>
<rect x="488.15" y="1319.14" width="64.72" height="68.07" fill="#61b4fe"/>
<rect x="552.27" y="1319.14" width="64.72" height="68.07" fill="#aad9ff"/>
<rect x="616.39" y="1319.14" width="64.72" height="68.07" fill="#bce0ff"/>
<rect x="680.51" y="1319.14" width="64.72" height="68.07" fill="#66b9ff"/>
<rect x="744.62" y="1319.14" width="64.72" height="68.07" fill="#9cd2ff"/>
<rect x="808.74" y="1319.14" width="64.72" height="68.07" fill="#80c5ff"/>
<rect x="872.86" y="1319.14" width="64.72" height="68.07" fill="#98d0ff"/>
<rect x="936.98" y="1319.14" width="64.72" height="68.07" fill="#58a4f9"/>
<rect x="1001.10" y="1319.14" width="64.72" height="68.07" fill="#8ccbff"/>
<rect x="1065.21" y="1319.14" width="64.72" height="68.07" fill="#b6deff"/>
<rect x="1129.33" y="1319.14" width="64.72" height="68.07" fill="#eff8ff"/>
<rect x="1193.45" y="1319.14" width="64.72" height="68.07" fill="#559df8"/>
<rect x="1257.57" y="1319.14" width="64.72" height="68.07" fill="#61b4fe"/>
<rect x="1321.69" y="1319.14" width="64.72" height="68.07" fill="#ee4200"/>
<rect x="1385.80" y="1319.14" width="64.72" height="68.07" fill="#13d113"/>
<rect x="1449.92" y="1319.14" width="64.72" height="68.07" fill="#00c100"/>
<rect x="1514.04" y="1319.14" width="64.72" height="68.07" fill="#00bc00"/>
<rect x="1578.16" y="1319.14" width="64.72" height="68.07" fill="#00ca00"/>
<rect x="1642.28" y="1319.14" width="64.72" height="68.07" fill="#00ca00"/>
<rect x="1706.39" y="1319.14" width="64.72" height="68.07" fill="#00c100"/>
<rect x="1770.51" y="1319.14" width="64.72" height="68.07" fill="#00c100"/>
<rect x="1834.63" y="1319.14" width="64.72" height="68.07" fill="#007700"/>
<rect x="1898.75" y="1319.14" width="64.72" height="68.07" fill="#00ca00"/>
<rect x="1962.86" y="1319.14" width="64.72" height="68.07" fill="#00ca00"/>
<rect x="2026.98" y="1319.14" width="64.72" height="68.07" fill="#008700"/>
<rect x="295.80" y="1386.61" width="64.72" height="68.07" fill="#dbefff"/>
<rect x="359.92" y="1386.61" width="64.72" height="68.07" fill="#e5f3ff"/>
<rect x="424.04" y="1386.61" width="64.72" height="68.07" fill="#eff8ff"/>
<rect x="488.15" y="1386.61" width="64.72" height="68.07" fill="#a3d5ff"/>
<rect x="552.27" y="1386.61" width="64.72" height="68.07" fill="#e4f3ff"/>
<rect x="616.39" y="1386.61" width="64.72" height="68.07" fill="#f3faff"/>
<rect x="680.51" y="1386.61" width="64.72" height="68.07" fill="#a2d5ff"/>
<rect x="744.62" y="1386.61" width="64.72" height="68.07" fill="#d5ecff"/>
<rect x="808.74" y="1386.61" width="64.72" height="68.07" fill="#b8dfff"/>
<rect x="872.86" y="1386.61" width="64.72" height="68.07" fill="#bee1ff"/>
<rect x="936.98" y="1386.61" width="64.72" height="68.07" fill="#95cfff"/>
<rect x="1001.10" y="1386.61" width="64.72" height="68.07" fill="#c6e5ff"/>
<rect x="1065.21" y="1386.61" width="64.72" height="68.07" fill="#dcefff"/>
<rect x="1129.33" y="1386.61" width="64.72" height="68.07" fill="#63b8ff"/>
<rect x="1193.45" y="1386.61" width="64.72" height="68.07" fill="#7fc5ff"/>
<rect x="1257.57" y="1386.61" width="64.72" height="68.07" fill="#65b9ff"/>
<rect x="1321.69" y="1386.61" width="64.72" height="68.07" fill="#b2dcff"/>
<rect x="1385.80" y="1386.61" width="64.72" height="68.07" fill="#ffe5b4"/>
<rect x="1449.92" y="1386.61" width="64.72" height="68.07" fill="#93ea93"/>
<rect x="1514.04" y="1386.61" width="64.72" height="68.07" fill="#a1eda1"/>
<rect x="1578.16" y="1386.61" width="64.72" height="68.07" fill="#c2f3c2"/>
<rect x="1642.28" y="1386.61" width="64.72" height="68.07" fill="#93ea93"/>
<rect x="1706.39" y="1386.61" width="64.72" height="68.07" fill="#7fe67f"/>
<rect x="1770.51" y="1386.61" width="64.72" height="68.07" fill="#7fe67f"/>
<rect x="1834.63" y="1386.61" width="64.72" height="68.07" fill="#00bf00"/>
<rect x="1898.75" y="1386.61" width="64.72" height="68.07" fill="#8ce98c"/>
<rect x="1962.86" y="1386.61" width="64.72" height="68.07" fill="#42da42"/>
<rect x="2026.98" y="1386.61" width="64.72" height="68.07" fill="#00ca00"/>
<rect x="295.80" y="1454.09" width="64.72" height="68.07" fill="#b8dfff"/>
<rect x="359.92" y="1454.09" width="64.72" height="68.07" fill="#d4ebff"/>
<rect x="424.04" y="1454.09" width="64.72" height="68.07" fill="#dff0ff"/>
<rect x="488.15" y="1454.09" width="64.72" height="68.07" fill="#77c1ff"/>
<rect x="552.27" y="1454.09" width="64.72" height="68.07" fill="#b8dfff"/>
<rect x="616.39" y="1454.09" width="64.72" height="68.07" fill="#c9e7ff"/>
<rect x="680.51" y="1454.09" width="64.72" height="68.07" fill="#7ac3ff"/>
<rect x="744.62" y="1454.09" width="64.72" height="68.07" fill="#bce1ff"/>
<rect x="808.74" y="1454.09" width="64.72" height="68.07" fill="#93ceff"/>
<rect x="872.86" y="1454.09" width="64.72" height="68.07" fill="#90ccff"/>
<rect x="936.98" y="1454.09" width="64.72" height="68.07" fill="#6cbcff"/>
<rect x="1001.10" y="1454.09" width="64.72" height="68.07" fill="#c5e5ff"/>
<rect x="1065.21" y="1454.09" width="64.72" height="68.07" fill="#daeeff"/>
<rect x="1129.33" y="1454.09" width="64.72" height="68.07" fill="#5094f5"/>
<rect x="1193.45" y="1454.09" width="64.72" height="68.07" fill="#87c9ff"/>
<rect x="1257.57" y="1454.09" width="64.72" height="68.07" fill="#7ac3ff"/>
<rect x="1321.69" y="1454.09" width="64.72" height="68.07" fill="#a2d5ff"/>
<rect x="1385.80" y="1454.09" width="64.72" height="68.07" fill="#e2f2ff"/>
<rect x="1449.92" y="1454.09" width="64.72" height="68.07" fill="#ffa603"/>
<rect x="1514.04" y="1454.09" width="64.72" height="68.07" fill="#50dd50"/>
<rect x="1578.16" y="1454.09" width="64.72" height="68.07" fill="#64e164"/>
<rect x="1642.28" y="1454.09" width="64.72" height="68.07" fill="#49db49"/>
<rect x="1706.39" y="1454.09" width="64.72" height="68.07" fill="#3cd93c"/>
<rect x="1770.51" y="1454.09" width="64.72" height="68.07" fill="#3cd93c"/>
<rect x="1834.63" y="1454.09" width="64.72" height="68.07" fill="#00a700"/>
<rect x="1898.75" y="1454.09" width="64.72" height="68.07" fill="#1ad21a"/>
<rect x="1962.86" y="1454.09" width="64.72" height="68.07" fill="#1ad21a"/>
<rect x="2026.98" y="1454.09" width="64.72" height="68.07" fill="#00bc00"/>
<rect x="295.80" y="1521.56" width="64.72" height="68.07" fill="#eef7ff"/>
<rect x="359.92" y="1521.56" width="64.72" height="68.07" fill="#e7f4ff"/>
<rect x="424.04" y="1521.56" width="64.72" height="68.07" fill="#eef7ff"/>
<rect x="488.15" y="1521.56" width="64.72" height="68.07" fill="#8dcbff"/>
<rect x="552.27" y="1521.56" width="64.72" height="68.07" fill="#d2ebff"/>
<rect x="616.39" y="1521.56" width="64.72" height="68.07" fill="#bae0ff"/>
<rect x="680.51" y="1521.56" width="64.72" height="68.07" fill="#90ccff"/>
<rect x="744.62" y="1521.56" width="64.72" height="68.07" fill="#d4ecff"/>
<rect x="808.74" y="1521.56" width="64.72" height="68.07" fill="#addaff"/>
<rect x="872.86" y="1521.56" width="64.72" height="68.07" fill="#b3dcff"/>
<rect x="936.98" y="1521.56" width="64.72" height="68.07" fill="#86c8ff"/>
<rect x="1001.10" y="1521.56" width="64.72" height="68.07" fill="#8bcaff"/>
<rect x="1065.21" y="1521.56" width="64.72" height="68.07" fill="#b7deff"/>
<rect x="1129.33" y="1521.56" width="64.72" height="68.07" fill="#3e74ec"/>
<rect x="1193.45" y="1521.56" width="64.72" height="68.07" fill="#81c6ff"/>
<rect x="1257.57" y="1521.56" width="64.72" height="68.07" fill="#4989f2"/>
<rect x="1321.69" y="1521.56" width="64.72" height="68.07" fill="#84c7ff"/>
<rect x="1385.80" y="1521.56" width="64.72" height="68.07" fill="#d5ecff"/>
<rect x="1449.92" y="1521.56" width="64.72" height="68.07" fill="#b9dfff"/>
<rect x="1514.04" y="1521.56" width="64.72" height="68.07" fill="#ffe8be"/>
<rect x="1578.16" y="1521.56" width="64.72" height="68.07" fill="#9aeb9a"/>
<rect x="1642.28" y="1521.56" width="64.72" height="68.07" fill="#64e164"/>
<rect x="1706.39" y="1521.56" width="64.72" height="68.07" fill="#3cd93c"/>
<rect x="1770.51" y="1521.56" width="64.72" height="68.07" fill="#3cd93c"/>
<rect x="1834.63" y="1521.56" width="64.72" height="68.07" fill="#00a000"/>
<rect x="1898.75" y="1521.56" width="64.72" height="68.07" fill="#21d321"/>
<rect x="1962.86" y="1521.56" width="64.72" height="68.07" fill="#00cd00"/>
<rect x="2026.98" y="1521.56" width="64.72" height="68.07" fill="#00b600"/>
<rect x="295.80" y="1589.03" width="64.72" height="68.07" fill="#ddf0ff"/>
<rect x="359.92" y="1589.03" width="64.72" height="68.07" fill="#e1f1ff"/>
<rect x="424.04" y="1589.03" width="64.72" height="68.07" fill="#eff8ff"/>
<rect x="488.15" y="1589.03" width="64.72" height="68.07" fill="#a7d7ff"/>
<rect x="552.27" y="1589.03" width="64.72" height="68.07" fill="#ffffff"/>
<rect x="616.39" y="1589.03" width="64.72" height="68.07" fill="#ffffff"/>
<rect x="680.51" y="1589.03" width="64.72" height="68.07" fill="#addaff"/>
<rect x="744.62" y="1589.03" width="64.72" height="68.07" fill="#eff8ff"/>
<rect x="808.74" y="1589.03" width="64.72" height="68.07" fill="#c3e4ff"/>
<rect x="872.86" y="1589.03" width="64.72" height="68.07" fill="#cbe7ff"/>
<rect x="936.98" y="1589.03" width="64.72" height="68.07" fill="#9ed3ff"/>
<rect x="1001.10" y="1589.03" width="64.72" height="68.07" fill="#cee9ff"/>
<rect x="1065.21" y="1589.03" width="64.72" height="68.07" fill="#e1f1ff"/>
<rect x="1129.33" y="1589.03" width="64.72" height="68.07" fill="#5fb0fd"/>
<rect x="1193.45" y="1589.03" width="64.72" height="68.07" fill="#81c6ff"/>
<rect x="1257.57" y="1589.03" width="64.72" height="68.07" fill="#7bc3ff"/>
<rect x="1321.69" y="1589.03" width="64.72" height="68.07" fill="#b4ddff"/>
<rect x="1385.80" y="1589.03" width="64.72" height="68.07" fill="#ffffff"/>
<rect x="1449.92" y="1589.03" width="64.72" height="68.07" fill="#d3ebff"/>
<rect x="1514.04" y="1589.03" width="64.72" height="68.07" fill="#def0ff"/>
<rect x="1578.16" y="1589.03" width="64.72" height="68.07" fill="#ffbd44"/>
<rect x="1642.28" y="1589.03" width="64.72" height="68.07" fill="#93ea93"/>
<rect x="1706.39" y="1589.03" width="64.72" height="68.07" fill="#35d735"/>
<rect x="1770.51" y="1589.03" width="64.72" height="68.07" fill="#35d735"/>
<rect x="1834.63" y="1589.03" width="64.72" height="68.07" fill="#009c00"/>
<rect x="1898.75" y="1589.03" width="64.72" height="68.07" fill="#72e372"/>
<rect x="1962.86" y="1589.03" width="64.72" height="68.07" fill="#1ad21a"/>
<rect x="2026.98" y="1589.03" width="64.72" height="68.07" fill="#00b900"/>
<rect x="295.80" y="1656.50" width="64.72" height="68.07" fill="#afdbff"/>
<rect x="359.92" y="1656.50" width="64.72" height="68.07" fill="#b5ddff"/>
<rect x="424.04" y="1656.50" width="64.72" height="68.07" fill="#c3e4ff"/>
<rect x="488.15" y="1656.50" width="64.72" height="68.07" fill="#80c5ff"/>
<rect x="552.27" y="1656.50" width="64.72" height="68.07" fill="#e6f3ff"/>
<rect x="616.39" y="1656.50" width="64.72" height="68.07" fill="#e3f2ff"/>
<rect x="680.51" y="1656.50" width="64.72" height="68.07" fill="#7fc5ff"/>
<rect x="744.62" y="1656.50" width="64.72" height="68.07" fill="#d0eaff"/>
<rect x="808.74" y="1656.50" width="64.72" height="68.07" fill="#a2d5ff"/>
<rect x="872.86" y="1656.50" width="64.72" height="68.07" fill="#9fd3ff"/>
<rect x="936.98" y="1656.50" width="64.72" height="68.07" fill="#7bc3ff"/>
<rect x="1001.10" y="1656.50" width="64.72" height="68.07" fill="#a2d5ff"/>
<rect x="1065.21" y="1656.50" width="64.72" height="68.07" fill="#d5ecff"/>
<rect x="1129.33" y="1656.50" width="64.72" height="68.07" fill="#4886f1"/>
<rect x="1193.45" y="1656.50" width="64.72" height="68.07" fill="#59a5fa"/>
<rect x="1257.57" y="1656.50" width="64.72" height="68.07" fill="#aad8ff"/>
<rect x="1321.69" y="1656.50" width="64.72" height="68.07" fill="#addaff"/>
<rect x="1385.80" y="1656.50" width="64.72" height="68.07" fill="#d5ecff"/>
<rect x="1449.92" y="1656.50" width="64.72" height="68.07" fill="#c4e4ff"/>
<rect x="1514.04" y="1656.50" width="64.72" height="68.07" fill="#bde1ff"/>
<rect x="1578.16" y="1656.50" width="64.72" height="68.07" fill="#e5f3ff"/>
<rect x="1642.28" y="1656.50" width="64.72" height="68.07" fill="#ffc04c"/>
<rect x="1706.39" y="1656.50" width="64.72" height="68.07" fill="#5ddf5d"/>
<rect x="1770.51" y="1656.50" width="64.72" height="68.07" fill="#5ddf5d"/>
<rect x="1834.63" y="1656.50" width="64.72" height="68.07" fill="#00a700"/>
<rect x="1898.75" y="1656.50" width="64.72" height="68.07" fill="#2ed62e"/>
<rect x="1962.86" y="1656.50" width="64.72" height="68.07" fill="#64e164"/>
<rect x="2026.98" y="1656.50" width="64.72" height="68.07" fill="#00c100"/>
<rect x="295.80" y="1723.97" width="64.72" height="68.07" fill="#80c5ff"/>
<rect x="359.92" y="1723.97" width="64.72" height="68.07" fill="#8fccff"/>
<rect x="424.04" y="1723.97" width="64.72" height="68.07" fill="#98d0ff"/>
<rect x="488.15" y="1723.97" width="64.72" height="68.07" fill="#4784f1"/>
<rect x="552.27" y="1723.97" width="64.72" height="68.07" fill="#73bfff"/>
<rect x="616.39" y="1723.97" width="64.72" height="68.07" fill="#89c9ff"/>
<rect x="680.51" y="1723.97" width="64.72" height="68.07" fill="#4988f2"/>
<rect x="744.62" y="1723.97" width="64.72" height="68.07" fill="#7cc3ff"/>
<rect x="808.74" y="1723.97" width="64.72" height="68.07" fill="#61b4fe"/>
<rect x="872.86" y="1723.97" width="64.72" height="68.07" fill="#5ba9fb"/>
<rect x="936.98" y="1723.97" width="64.72" height="68.07" fill="#4178ee"/>
<rect x="1001.10" y="1723.97" width="64.72" height="68.07" fill="#62b7ff"/>
<rect x="1065.21" y="1723.97" width="64.72" height="68.07" fill="#95cfff"/>
<rect x="1129.33" y="1723.97" width="64.72" height="68.07" fill="#3c6feb"/>
<rect x="1193.45" y="1723.97" width="64.72" height="68.07" fill="#58a4f9"/>
<rect x="1257.57" y="1723.97" width="64.72" height="68.07" fill="#b5ddff"/>
<rect x="1321.69" y="1723.97" width="64.72" height="68.07" fill="#8dcbff"/>
<rect x="1385.80" y="1723.97" width="64.72" height="68.07" fill="#b1dcff"/>
<rect x="1449.92" y="1723.97" width="64.72" height="68.07" fill="#a6d6ff"/>
<rect x="1514.04" y="1723.97" width="64.72" height="68.07" fill="#90ccff"/>
<rect x="1578.16" y="1723.97" width="64.72" height="68.07" fill="#99d1ff"/>
<rect x="1642.28" y="1723.97" width="64.72" height="68.07" fill="#b3dcff"/>
<rect x="1706.39" y="1723.97" width="64.72" height="68.07" fill="#ffffff"/>
<rect x="1770.51" y="1723.97" width="64.72" height="68.07" fill="#ffffff"/>
<rect x="1834.63" y="1723.97" width="64.72" height="68.07" fill="#06ce06"/>
<rect x="1898.75" y="1723.97" width="64.72" height="68.07" fill="#2ed62e"/>
<rect x="1962.86" y="1723.97" width="64.72" height="68.07" fill="#6be26b"/>
<rect x="2026.98" y="1723.97" width="64.72" height="68.07" fill="#7fe67f"/>
<rect x="295.80" y="1791.44" width="64.72" height="68.07" fill="#80c5ff"/>
<rect x="359.92" y="1791.44" width="64.72" height="68.07" fill="#8fccff"/>
<rect x="424.04" y="1791.44" width="64.72" height="68.07" fill="#98d0ff"/>
<rect x="488.15" y="1791.44" width="64.72" height="68.07" fill="#4784f1"/>
<rect x="552.27" y="1791.44" width="64.72" height="68.07" fill="#73bfff"/>
<rect x="616.39" y="1791.44" width="64.72" height="68.07" fill="#89c9ff"/>
<rect x="680.51" y="1791.44" width="64.72" height="68.07" fill="#4988f2"/>
<rect x="744.62" y="1791.44" width="64.72" height="68.07" fill="#7cc3ff"/>
<rect x="808.74" y="1791.44" width="64.72" height="68.07" fill="#61b4fe"/>
<rect x="872.86" y="1791.44" width="64.72" height="68.07" fill="#5ba9fb"/>
<rect x="936.98" y="1791.44" width="64.72" height="68.07" fill="#4178ee"/>
<rect x="1001.10" y="1791.44" width="64.72" height="68.07" fill="#62b7ff"/>
<rect x="1065.21" y="1791.44" width="64.72" height="68.07" fill="#95cfff"/>
<rect x="1129.33" y="1791.44" width="64.72" height="68.07" fill="#3c6feb"/>
<rect x="1193.45" y="1791.44" width="64.72" height="68.07" fill="#58a4f9"/>
<rect x="1257.57" y="1791.44" width="64.72" height="68.07" fill="#b5ddff"/>
<rect x="1321.69" y="1791.44" width="64.72" height="68.07" fill="#8dcbff"/>
<rect x="1385.80" y="1791.44" width="64.72" height="68.07" fill="#b1dcff"/>
<rect x="1449.92" y="1791.44" width="64.72" height="68.07" fill="#a6d6ff"/>
<rect x="1514.04" y="1791.44" width="64.72" height="68.07" fill="#90ccff"/>
<rect x="1578.16" y="1791.44" width="64.72" height="68.07" fill="#99d1ff"/>
<rect x="1642.28" y="1791.44" width="64.72" height="68.07" fill="#b3dcff"/>
<rect x="1706.39" y="1791.44" width="64.72" height="68.07" fill="#ffffff"/>
<rect x="1770.51" y="1791.44" width="64.72" height="68.07" fill="#ffffff"/>
<rect x="1834.63" y="1791.44" width="64.72" height="68.07" fill="#06ce06"/>
<rect x="1898.75" y="1791.44" width="64.72" height="68.07" fill="#2ed62e"/>
<rect x="1962.86" y="1791.44" width="64.72" height="68.07" fill="#6be26b"/>
<rect x="2026.98" y="1791.44" width="64.72" height="68.07" fill="#7fe67f"/>
<rect x="295.80" y="1858.91" width="64.72" height="68.07" fill="#3665e8"/>
<rect x="359.92" y="1858.91" width="64.72" height="68.07" fill="#3d71ec"/>
<rect x="424.04" y="1858.91" width="64.72" height="68.07" fill="#437cef"/>
<rect x="488.15" y="1858.91" width="64.72" height="68.07" fill="#070ed1"/>
<rect x="552.27" y="1858.91" width="64.72" height="68.07" fill="#3460e7"/>
<rect x="616.39" y="1858.91" width="64.72" height="68.07" fill="#3d71ec"/>
<rect x="680.51" y="1858.91" width="64.72" height="68.07" fill="#070dd1"/>
<rect x="744.62" y="1858.91" width="64.72" height="68.07" fill="#3665e8"/>
<rect x="808.74" y="1858.91" width="64.72" height="68.07" fill="#203cdd"/>
<rect x="872.86" y="1858.91" width="64.72" height="68.07" fill="#1b33db"/>
<rect x="936.98" y="1858.91" width="64.72" height="68.07" fill="#0408cf"/>
<rect x="1001.10" y="1858.91" width="64.72" height="68.07" fill="#2646e0"/>
<rect x="1065.21" y="1858.91" width="64.72" height="68.07" fill="#437def"/>
<rect x="1129.33" y="1858.91" width="64.72" height="68.07" fill="#0001cd"/>
<rect x="1193.45" y="1858.91" width="64.72" height="68.07" fill="#3461e7"/>
<rect x="1257.57" y="1858.91" width="64.72" height="68.07" fill="#335ee7"/>
<rect x="1321.69" y="1858.91" width="64.72" height="68.07" fill="#3a6cea"/>
<rect x="1385.80" y="1858.91" width="64.72" height="68.07" fill="#58a3f9"/>
<rect x="1449.92" y="1858.91" width="64.72" height="68.07" fill="#5197f6"/>
<rect x="1514.04" y="1858.91" width="64.72" height="68.07" fill="#4077ed"/>
<rect x="1578.16" y="1858.91" width="64.72" height="68.07" fill="#447fef"/>
<rect x="1642.28" y="1858.91" width="64.72" height="68.07" fill="#549cf8"/>
<rect x="1706.39" y="1858.91" width="64.72" height="68.07" fill="#74c0ff"/>
<rect x="1770.51" y="1858.91" width="64.72" height="68.07" fill="#74c0ff"/>
<rect x="1834.63" y="1858.91" width="64.72" height="68.07" fill="#ffcc6d"/>
<rect x="1898.75" y="1858.91" width="64.72" height="68.07" fill="#00ae00"/>
<rect x="1962.86" y="1858.91" width="64.72" height="68.07" fill="#00b200"/>
<rect x="2026.98" y="1858.91" width="64.72" height="68.07" fill="#78e578"/>
<rect x="295.80" y="1926.39" width="64.72" height="68.07" fill="#80c5ff"/>
<rect x="359.92" y="1926.39" width="64.72" height="68.07" fill="#93ceff"/>
<rect x="424.04" y="1926.39" width="64.72" height="68.07" fill="#a1d4ff"/>
<rect x="488.15" y="1926.39" width="64.72" height="68.07" fill="#92cdff"/>
<rect x="552.27" y="1926.39" width="64.72" height="68.07" fill="#a5d6ff"/>
<rect x="616.39" y="1926.39" width="64.72" height="68.07" fill="#b9dfff"/>
<rect x="680.51" y="1926.39" width="64.72" height="68.07" fill="#7bc3ff"/>
<rect x="744.62" y="1926.39" width="64.72" height="68.07" fill="#a1d4ff"/>
<rect x="808.74" y="1926.39" width="64.72" height="68.07" fill="#abd9ff"/>
<rect x="872.86" y="1926.39" width="64.72" height="68.07" fill="#86c8ff"/>
<rect x="936.98" y="1926.39" width="64.72" height="68.07" fill="#82c6ff"/>
<rect x="1001.10" y="1926.39" width="64.72" height="68.07" fill="#b0dbff"/>
<rect x="1065.21" y="1926.39" width="64.72" height="68.07" fill="#c9e6ff"/>
<rect x="1129.33" y="1926.39" width="64.72" height="68.07" fill="#5ba9fb"/>
<rect x="1193.45" y="1926.39" width="64.72" height="68.07" fill="#88c9ff"/>
<rect x="1257.57" y="1926.39" width="64.72" height="68.07" fill="#59a6fa"/>
<rect x="1321.69" y="1926.39" width="64.72" height="68.07" fill="#96cfff"/>
<rect x="1385.80" y="1926.39" width="64.72" height="68.07" fill="#bee1ff"/>
<rect x="1449.92" y="1926.39" width="64.72" height="68.07" fill="#90ccff"/>
<rect x="1514.04" y="1926.39" width="64.72" height="68.07" fill="#81c6ff"/>
<rect x="1578.16" y="1926.39" width="64.72" height="68.07" fill="#badfff"/>
<rect x="1642.28" y="1926.39" width="64.72" height="68.07" fill="#92cdff"/>
<rect x="1706.39" y="1926.39" width="64.72" height="68.07" fill="#7fc5ff"/>
<rect x="1770.51" y="1926.39" width="64.72" height="68.07" fill="#7fc5ff"/>
<rect x="1834.63" y="1926.39" width="64.72" height="68.07" fill="#4e92f5"/>
<rect x="1898.75" y="1926.39" width="64.72" height="68.07" fill="#ffffff"/>
<rect x="1962.86" y="1926.39" width="64.72" height="68.07" fill="#00ca00"/>
<rect x="2026.98" y="1926.39" width="64.72" height="68.07" fill="#00a700"/>
<rect x="295.80" y="1993.86" width="64.72" height="68.07" fill="#90ccff"/>
<rect x="359.92" y="1993.86" width="64.72" height="68.07" fill="#a3d5ff"/>
<rect x="424.04" y="1993.86" width="64.72" height="68.07" fill="#aedaff"/>
<rect x="488.15" y="1993.86" width="64.72" height="68.07" fill="#58a4fa"/>
<rect x="552.27" y="1993.86" width="64.72" height="68.07" fill="#9fd3ff"/>
<rect x="616.39" y="1993.86" width="64.72" height="68.07" fill="#b7deff"/>
<rect x="680.51" y="1993.86" width="64.72" height="68.07" fill="#5aa6fa"/>
<rect x="744.62" y="1993.86" width="64.72" height="68.07" fill="#a1d4ff"/>
<rect x="808.74" y="1993.86" width="64.72" height="68.07" fill="#82c6ff"/>
<rect x="872.86" y="1993.86" width="64.72" height="68.07" fill="#75c0ff"/>
<rect x="936.98" y="1993.86" width="64.72" height="68.07" fill="#549cf7"/>
<rect x="1001.10" y="1993.86" width="64.72" height="68.07" fill="#83c6ff"/>
<rect x="1065.21" y="1993.86" width="64.72" height="68.07" fill="#b8dfff"/>
<rect x="1129.33" y="1993.86" width="64.72" height="68.07" fill="#5094f5"/>
<rect x="1193.45" y="1993.86" width="64.72" height="68.07" fill="#5fb1fd"/>
<rect x="1257.57" y="1993.86" width="64.72" height="68.07" fill="#a0d4ff"/>
<rect x="1321.69" y="1993.86" width="64.72" height="68.07" fill="#c6e5ff"/>
<rect x="1385.80" y="1993.86" width="64.72" height="68.07" fill="#c5e5ff"/>
<rect x="1449.92" y="1993.86" width="64.72" height="68.07" fill="#c2e3ff"/>
<rect x="1514.04" y="1993.86" width="64.72" height="68.07" fill="#a2d5ff"/>
<rect x="1578.16" y="1993.86" width="64.72" height="68.07" fill="#bae0ff"/>
<rect x="1642.28" y="1993.86" width="64.72" height="68.07" fill="#e3f2ff"/>
<rect x="1706.39" y="1993.86" width="64.72" height="68.07" fill="#d0eaff"/>
<rect x="1770.51" y="1993.86" width="64.72" height="68.07" fill="#d0eaff"/>
<rect x="1834.63" y="1993.86" width="64.72" height="68.07" fill="#85c7ff"/>
<rect x="1898.75" y="1993.86" width="64.72" height="68.07" fill="#93ceff"/>
<rect x="1962.86" y="1993.86" width="64.72" height="68.07" fill="#f46400"/>
<rect x="2026.98" y="1993.86" width="64.72" height="68.07" fill="#00ca00"/>
<rect x="295.80" y="2061.33" width="64.72" height="68.07" fill="#3e72ec"/>
<rect x="359.92" y="2061.33" width="64.72" height="68.07" fill="#4988f2"/>
<rect x="424.04" y="2061.33" width="64.72" height="68.07" fill="#4d8ff4"/>
<rect x="488.15" y="2061.33" width="64.72" height="68.07" fill="#0b14d2"/>
<rect x="552.27" y="2061.33" width="64.72" height="68.07" fill="#396aea"/>
<rect x="616.39" y="2061.33" width="64.72" height="68.07" fill="#4581f0"/>
<rect x="680.51" y="2061.33" width="64.72" height="68.07" fill="#0a13d2"/>
<rect x="744.62" y="2061.33" width="64.72" height="68.07" fill="#3869e9"/>
<rect x="808.74" y="2061.33" width="64.72" height="68.07" fill="#2342df"/>
<rect x="872.86" y="2061.33" width="64.72" height="68.07" fill="#223ede"/>
<rect x="936.98" y="2061.33" width="64.72" height="68.07" fill="#080ed1"/>
<rect x="1001.10" y="2061.33" width="64.72" height="68.07" fill="#294ce2"/>
<rect x="1065.21" y="2061.33" width="64.72" height="68.07" fill="#4b8bf3"/>
<rect x="1129.33" y="2061.33" width="64.72" height="68.07" fill="#0204ce"/>
<rect x="1193.45" y="2061.33" width="64.72" height="68.07" fill="#1c34db"/>
<rect x="1257.57" y="2061.33" width="64.72" height="68.07" fill="#5dacfc"/>
<rect x="1321.69" y="2061.33" width="64.72" height="68.07" fill="#427aee"/>
<rect x="1385.80" y="2061.33" width="64.72" height="68.07" fill="#5baafb"/>
<rect x="1449.92" y="2061.33" width="64.72" height="68.07" fill="#5aa6fa"/>
<rect x="1514.04" y="2061.33" width="64.72" height="68.07" fill="#4a8af2"/>
<rect x="1578.16" y="2061.33" width="64.72" height="68.07" fill="#5298f6"/>
<rect x="1642.28" y="2061.33" width="64.72" height="68.07" fill="#63b8ff"/>
<rect x="1706.39" y="2061.33" width="64.72" height="68.07" fill="#b2dcff"/>
<rect x="1770.51" y="2061.33" width="64.72" height="68.07" fill="#b2dcff"/>
<rect x="1834.63" y="2061.33" width="64.72" height="68.07" fill="#bce1ff"/>
<rect x="1898.75" y="2061.33" width="64.72" height="68.07" fill="#3b6eeb"/>
<rect x="1962.86" y="2061.33" width="64.72" height="68.07" fill="#92cdff"/>
<rect x="2026.98" y="2061.33" width="64.72" height="68.07" fill="#fffaf0"/>
</g>
<rect x="296.7" y="240.7" width="1794.2" height="1888.1" fill="none" stroke="#222" stroke-width="1.9"/>
<g stroke="#484848" stroke-width="2.2">
<line x1="276.8" y1="273.7" x2="296.7" y2="273.7"/>
<line x1="329.2" y1="2128.8" x2="329.2" y2="2149.8"/>
<line x1="276.8" y1="341.2" x2="296.7" y2="341.2"/>
<line x1="393.3" y1="2128.8" x2="393.3" y2="2149.8"/>
<line x1="276.8" y1="408.7" x2="296.7" y2="408.7"/>
<line x1="457.4" y1="2128.8" x2="457.4" y2="2149.8"/>
<line x1="276.8" y1="476.1" x2="296.7" y2="476.1"/>
<line x1="521.5" y1="2128.8" x2="521.5" y2="2149.8"/>
<line x1="276.8" y1="543.6" x2="296.7" y2="543.6"/>
<line x1="585.6" y1="2128.8" x2="585.6" y2="2149.8"/>
<line x1="276.8" y1="611.1" x2="296.7" y2="611.1"/>
<line x1="649.7" y1="2128.8" x2="649.7" y2="2149.8"/>
<line x1="276.8" y1="678.6" x2="296.7" y2="678.6"/>
<line x1="713.9" y1="2128.8" x2="713.9" y2="2149.8"/>
<line x1="276.8" y1="746.0" x2="296.7" y2="746.0"/>
<line x1="778.0" y1="2128.8" x2="778.0" y2="2149.8"/>
<line x1="276.8" y1="813.5" x2="296.7" y2="813.5"/>
<line x1="842.1" y1="2128.8" x2="842.1" y2="2149.8"/>
<line x1="276.8" y1="881.0" x2="296.7" y2="881.0"/>
<line x1="906.2" y1="2128.8" x2="906.2" y2="2149.8"/>
<line x1="276.8" y1="948.5" x2="296.7" y2="948.5"/>
<line x1="970.3" y1="2128.8" x2="970.3" y2="2149.8"/>
<line x1="276.8" y1="1015.9" x2="296.7" y2="1015.9"/>
<line x1="1034.5" y1="2128.8" x2="1034.5" y2="2149.8"/>
<line x1="276.8" y1="1083.4" x2="296.7" y2="1083.4"/>
<line x1="1098.6" y1="2128.8" x2="1098.6" y2="2149.8"/>
<line x1="276.8" y1="1150.9" x2="296.7" y2="1150.9"/>
<line x1="1162.7" y1="2128.8" x2="1162.7" y2="2149.8"/>
<line x1="276.8" y1="1218.3" x2="296.7" y2="1218.3"/>
<line x1="1226.8" y1="2128.8" x2="1226.8" y2="2149.8"/>
<line x1="276.8" y1="1285.8" x2="296.7" y2="1285.8"/>
<line x1="1290.9" y1="2128.8" x2="1290.9" y2="2149.8"/>
<line x1="276.8" y1="1353.3" x2="296.7" y2="1353.3"/>
<line x1="1355.0" y1="2128.8" x2="1355.0" y2="2149.8"/>
<line x1="276.8" y1="1420.8" x2="296.7" y2="1420.8"/>
<line x1="1419.2" y1="2128.8" x2="1419.2" y2="2149.8"/>
<line x1="276.8" y1="1488.2" x2="296.7" y2="1488.2"/>
<line x1="1483.3" y1="2128.8" x2="1483.3" y2="2149.8"/>
<line x1="276.8" y1="1555.7" x2="296.7" y2="1555.7"/>
<line x1="1547.4" y1="2128.8" x2="1547.4" y2="2149.8"/>
<line x1="276.8" y1="1623.2" x2="296.7" y2="1623.2"/>
<line x1="1611.5" y1="2128.8" x2="1611.5" y2="2149.8"/>
<line x1="276.8" y1="1690.6" x2="296.7" y2="1690.6"/>
<line x1="1675.6" y1="2128.8" x2="1675.6" y2="2149.8"/>
<line x1="276.8" y1="1758.1" x2="296.7" y2="1758.1"/>
<line x1="1739.8" y1="2128.8" x2="1739.8" y2="2149.8"/>
<line x1="276.8" y1="1825.6" x2="296.7" y2="1825.6"/>
<line x1="1803.9" y1="2128.8" x2="1803.9" y2="2149.8"/>
<line x1="276.8" y1="1893.1" x2="296.7" y2="1893.1"/>
<line x1="1868.0" y1="2128.8" x2="1868.0" y2="2149.8"/>
<line x1="276.8" y1="1960.5" x2="296.7" y2="1960.5"/>
<line x1="1932.1" y1="2128.8" x2="1932.1" y2="2149.8"/>
<line x1="276.8" y1="2028.0" x2="296.7" y2="2028.0"/>
<line x1="1996.2" y1="2128.8" x2="1996.2" y2="2149.8"/>
<line x1="276.8" y1="2095.5" x2="296.7" y2="2095.5"/>
<line x1="2060.3" y1="2128.8" x2="2060.3" y2="2149.8"/>
</g>
<g font-size="45.9" text-anchor="end">
<text x="254.2" y="291.4">Lia</text>
<text x="254.2" y="360.2">Shanty</text>
<text x="254.2" y="427.7">Huichol</text>
<text x="254.2" y="495.1">Rio Grande</text>
<text x="254.2" y="558.6">HT36</text>
<text x="254.2" y="629.5">HT37</text>
<text x="254.2" y="697.6">HT23</text>
<text x="254.2" y="768.1">HT25</text>
<text x="254.2" y="835.6">8222</text>
<text x="254.2" y="901.6">8223</text>
<text x="254.2" y="967.0">8224</text>
<text x="254.2" y="1034.9">8225</text>
<text x="254.2" y="1102.4">8226</text>
<text x="254.2" y="1170.1">8281</text>
<text x="254.2" y="1236.7">8282</text>
<text x="254.2" y="1303.4">8284</text>
<text x="254.2" y="1370.9">8288</text>
<text x="254.2" y="1439.8">8290</text>
<text x="254.2" y="1507.2">8292</text>
<text x="254.2" y="1574.7">8295</text>
<text x="254.2" y="1642.2">8316</text>
<text x="254.2" y="1709.6">8322</text>
<text x="254.2" y="1777.1">8328</text>
<text x="254.2" y="1844.6">8330</text>
<text x="254.2" y="1913.5">8335</text>
<text x="254.2" y="1978.9">8340</text>
<text x="254.2" y="2047.2">8348</text>
<text x="254.2" y="2114.2">8349</text>
</g>
<text x="322.3" y="2206.4" font-size="41.2" text-anchor="middle"><tspan x="322.3" y="2206.4">L</tspan><tspan x="322.3" y="2240.7">i</tspan><tspan x="322.3" y="2275.0">a</tspan></text>
<text x="386.4" y="2206.4" font-size="41.2" text-anchor="middle"><tspan x="386.4" y="2206.4">S</tspan><tspan x="386.4" y="2240.7">h</tspan><tspan x="386.4" y="2275.0">a</tspan><tspan x="386.4" y="2309.3">n</tspan><tspan x="386.4" y="2343.6">t</tspan><tspan x="386.4" y="2377.9">y</tspan></text>
<text x="450.5" y="2206.4" font-size="41.2" text-anchor="middle"><tspan x="450.5" y="2206.4">H</tspan><tspan x="450.5" y="2240.7">u</tspan><tspan x="450.5" y="2275.0">i</tspan><tspan x="450.5" y="2309.3">c</tspan><tspan x="450.5" y="2343.6">h</tspan><tspan x="450.5" y="2377.9">o</tspan><tspan x="450.5" y="2412.2">l</tspan></text>
<text x="514.6" y="2206.4" font-size="41.2" text-anchor="middle"><tspan x="514.6" y="2206.4">R</tspan><tspan x="514.6" y="2240.7">i</tspan><tspan x="514.6" y="2275.0">o</tspan><tspan x="514.6" y="2343.6">G</tspan><tspan x="514.6" y="2377.9">r</tspan><tspan x="514.6" y="2412.2">a</tspan><tspan x="514.6" y="2446.5">n</tspan><tspan x="514.6" y="2480.8">d</tspan><tspan x="514.6" y="2515.1">e</tspan></text>
<text x="578.7" y="2206.4" font-size="41.2" text-anchor="middle"><tspan x="578.7" y="2206.4">H</tspan><tspan x="578.7" y="2240.7">T</tspan><tspan x="578.7" y="2275.0">3</tspan><tspan x="578.7" y="2309.3">6</tspan></text>
<text x="642.8" y="2206.4" font-size="41.2" text-anchor="middle"><tspan x="642.8" y="2206.4">H</tspan><tspan x="642.8" y="2240.7">T</tspan><tspan x="642.8" y="2275.0">3</tspan><tspan x="642.8" y="2309.3">7</tspan></text>
<text x="707.0" y="2206.4" font-size="41.2" text-anchor="middle"><tspan x="707.0" y="2206.4">H</tspan><tspan x="707.0" y="2240.7">T</tspan><tspan x="707.0" y="2275.0">2</tspan><tspan x="707.0" y="2309.3">3</tspan></text>
<text x="771.1" y="2206.4" font-size="41.2" text-anchor="middle"><tspan x="771.1" y="2206.4">H</tspan><tspan x="771.1" y="2240.7">T</tspan><tspan x="771.1" y="2275.0">2</tspan><tspan x="771.1" y="2309.3">5</tspan></text>
<text x="835.2" y="2206.4" font-size="41.2" text-anchor="middle"><tspan x="835.2" y="2206.4">8</tspan><tspan x="835.2" y="2240.7">2</tspan><tspan x="835.2" y="2275.0">2</tspan><tspan x="835.2" y="2309.3">2</tspan></text>
<text x="899.3" y="2206.4" font-size="41.2" text-anchor="middle"><tspan x="899.3" y="2206.4">8</tspan><tspan x="899.3" y="2240.7">2</tspan><tspan x="899.3" y="2275.0">2</tspan><tspan x="899.3" y="2309.3">3</tspan></text>
<text x="962.8" y="2212.3" font-size="45.3" text-anchor="middle"><tspan x="962.8" y="2212.3">8</tspan><tspan x="962.8" y="2249.5">2</tspan><tspan x="962.8" y="2286.7">2</tspan><tspan x="962.8" y="2323.9">4</tspan></text>
<text x="1027.0" y="2212.3" font-size="45.3" text-anchor="middle"><tspan x="1027.0" y="2212.3">8</tspan><tspan x="1027.0" y="2249.5">2</tspan><tspan x="1027.0" y="2286.7">2</tspan><tspan x="1027.0" y="2323.9">5</tspan></text>
<text x="1091.1" y="2212.3" font-size="45.3" text-anchor="middle"><tspan x="1091.1" y="2212.3">8</tspan><tspan x="1091.1" y="2249.5">2</tspan><tspan x="1091.1" y="2286.7">2</tspan><tspan x="1091.1" y="2323.9">6</tspan></text>
<text x="1155.2" y="2212.3" font-size="45.3" text-anchor="middle"><tspan x="1155.2" y="2212.3">8</tspan><tspan x="1155.2" y="2249.5">2</tspan><tspan x="1155.2" y="2286.7">8</tspan><tspan x="1155.2" y="2323.9">1</tspan></text>
<text x="1219.3" y="2212.3" font-size="45.3" text-anchor="middle"><tspan x="1219.3" y="2212.3">8</tspan><tspan x="1219.3" y="2249.5">2</tspan><tspan x="1219.3" y="2286.7">8</tspan><tspan x="1219.3" y="2323.9">2</tspan></text>
<text x="1283.4" y="2212.3" font-size="45.3" text-anchor="middle"><tspan x="1283.4" y="2212.3">8</tspan><tspan x="1283.4" y="2249.5">2</tspan><tspan x="1283.4" y="2286.7">8</tspan><tspan x="1283.4" y="2323.9">4</tspan></text>
<text x="1347.5" y="2212.3" font-size="45.3" text-anchor="middle"><tspan x="1347.5" y="2212.3">8</tspan><tspan x="1347.5" y="2249.5">2</tspan><tspan x="1347.5" y="2286.7">8</tspan><tspan x="1347.5" y="2323.9">8</tspan></text>
<text x="1411.7" y="2212.3" font-size="45.3" text-anchor="middle"><tspan x="1411.7" y="2212.3">8</tspan><tspan x="1411.7" y="2249.5">2</tspan><tspan x="1411.7" y="2286.7">9</tspan><tspan x="1411.7" y="2323.9">0</tspan></text>
<text x="1475.8" y="2212.3" font-size="45.3" text-anchor="middle"><tspan x="1475.8" y="2212.3">8</tspan><tspan x="1475.8" y="2249.5">2</tspan><tspan x="1475.8" y="2286.7">9</tspan><tspan x="1475.8" y="2323.9">2</tspan></text>
<text x="1539.9" y="2212.3" font-size="45.3" text-anchor="middle"><tspan x="1539.9" y="2212.3">8</tspan><tspan x="1539.9" y="2249.5">2</tspan><tspan x="1539.9" y="2286.7">9</tspan><tspan x="1539.9" y="2323.9">5</tspan></text>
<text x="1604.0" y="2212.3" font-size="45.3" text-anchor="middle"><tspan x="1604.0" y="2212.3">8</tspan><tspan x="1604.0" y="2249.5">3</tspan><tspan x="1604.0" y="2286.7">1</tspan><tspan x="1604.0" y="2323.9">6</tspan></text>
<text x="1668.1" y="2212.3" font-size="45.3" text-anchor="middle"><tspan x="1668.1" y="2212.3">8</tspan><tspan x="1668.1" y="2249.5">3</tspan><tspan x="1668.1" y="2286.7">2</tspan><tspan x="1668.1" y="2323.9">2</tspan></text>
<text x="1732.3" y="2212.3" font-size="45.3" text-anchor="middle"><tspan x="1732.3" y="2212.3">8</tspan><tspan x="1732.3" y="2249.5">3</tspan><tspan x="1732.3" y="2286.7">2</tspan><tspan x="1732.3" y="2323.9">8</tspan></text>
<text x="1796.4" y="2212.3" font-size="45.3" text-anchor="middle"><tspan x="1796.4" y="2212.3">8</tspan><tspan x="1796.4" y="2249.5">3</tspan><tspan x="1796.4" y="2286.7">3</tspan><tspan x="1796.4" y="2323.9">0</tspan></text>
<text x="1860.5" y="2212.3" font-size="45.3" text-anchor="middle"><tspan x="1860.5" y="2212.3">8</tspan><tspan x="1860.5" y="2249.5">3</tspan><tspan x="1860.5" y="2286.7">3</tspan><tspan x="1860.5" y="2323.9">5</tspan></text>
<text x="1924.6" y="2212.3" font-size="45.3" text-anchor="middle"><tspan x="1924.6" y="2212.3">8</tspan><tspan x="1924.6" y="2249.5">3</tspan><tspan x="1924.6" y="2286.7">4</tspan><tspan x="1924.6" y="2323.9">0</tspan></text>
<text x="1988.7" y="2212.3" font-size="45.3" text-anchor="middle"><tspan x="1988.7" y="2212.3">8</tspan><tspan x="1988.7" y="2249.5">3</tspan><tspan x="1988.7" y="2286.7">4</tspan><tspan x="1988.7" y="2323.9">8</tspan></text>
<text x="2052.8" y="2212.3" font-size="45.3" text-anchor="middle"><tspan x="2052.8" y="2212.3">8</tspan><tspan x="2052.8" y="2249.5">3</tspan><tspan x="2052.8" y="2286.7">4</tspan><tspan x="2052.8" y="2323.9">9</tspan></text>
<rect x="2158.4" y="80" width="145.0" height="674" fill="url(#gg)" stroke="#333" stroke-width="2.1"/>
<rect x="2158.4" y="823" width="145.0" height="706.7" fill="url(#og)" stroke="#333" stroke-width="2.1"/>
<rect x="2158.4" y="1602" width="145.0" height="671.8000000000002" fill="url(#bg)" stroke="#333" stroke-width="2.1"/>
<g stroke="#484848" stroke-width="2.2">
<line x1="2303.4" y1="754.0" x2="2320.9" y2="754.0"/>
<line x1="2303.4" y1="665.1" x2="2320.9" y2="665.1"/>
<line x1="2303.4" y1="576.3" x2="2320.9" y2="576.3"/>
<line x1="2303.4" y1="487.4" x2="2320.9" y2="487.4"/>
<line x1="2303.4" y1="398.6" x2="2320.9" y2="398.6"/>
<line x1="2303.4" y1="309.7" x2="2320.9" y2="309.7"/>
<line x1="2303.4" y1="220.8" x2="2320.9" y2="220.8"/>
<line x1="2303.4" y1="132.0" x2="2320.9" y2="132.0"/>
<line x1="2303.4" y1="1529.7" x2="2320.9" y2="1529.7"/>
<line x1="2303.4" y1="1400.4" x2="2320.9" y2="1400.4"/>
<line x1="2303.4" y1="1271.0" x2="2320.9" y2="1271.0"/>
<line x1="2303.4" y1="1141.7" x2="2320.9" y2="1141.7"/>
<line x1="2303.4" y1="1012.3" x2="2320.9" y2="1012.3"/>
<line x1="2303.4" y1="883.0" x2="2320.9" y2="883.0"/>
<line x1="2303.4" y1="2273.8" x2="2320.9" y2="2273.8"/>
<line x1="2303.4" y1="2180.5" x2="2320.9" y2="2180.5"/>
<line x1="2303.4" y1="2087.2" x2="2320.9" y2="2087.2"/>
<line x1="2303.4" y1="1993.9" x2="2320.9" y2="1993.9"/>
<line x1="2303.4" y1="1900.6" x2="2320.9" y2="1900.6"/>
<line x1="2303.4" y1="1807.3" x2="2320.9" y2="1807.3"/>
<line x1="2303.4" y1="1714.0" x2="2320.9" y2="1714.0"/>
<line x1="2303.4" y1="1620.7" x2="2320.9" y2="1620.7"/>
</g>
<g font-size="32">
<text x="2336.5" y="763.5">0</text>
<text x="2336.5" y="674.6">1</text>
<text x="2336.5" y="585.8">2</text>
<text x="2336.5" y="496.9">3</text>
<text x="2336.5" y="408.1">4</text>
<text x="2336.5" y="319.2">5</text>
<text x="2336.5" y="230.3">6</text>
<text x="2336.5" y="141.5">7</text>
<text x="2335" y="1538.7">0.0</text>
<text x="2335" y="1409.4">0.5</text>
<text x="2335" y="1280.0">1.0</text>
<text x="2335" y="1150.7">1.5</text>
<text x="2335" y="1021.3">2.0</text>
<text x="2335" y="892.0">2.5</text>
<text x="2326.5" y="2284.3">0</text>
<text x="2326.5" y="2191.0">1</text>
<text x="2326.5" y="2097.7">2</text>
<text x="2326.5" y="2004.4">3</text>
<text x="2326.5" y="1911.1">4</text>
<text x="2326.5" y="1817.8">5</text>
<text x="2326.5" y="1724.5">6</text>
<text x="2326.5" y="1631.2">7</text>
</g>
<g font-size="62.5" text-anchor="middle">
<text transform="translate(2463 401.1) rotate(-90)">between populations</text>
<text transform="translate(2477.8 1155.1) rotate(-90)">within populations</text>
<text transform="translate(2469.9 1931.8) rotate(-90)">Nei´s distance (d)</text>
</g>
</svg></body></html>
